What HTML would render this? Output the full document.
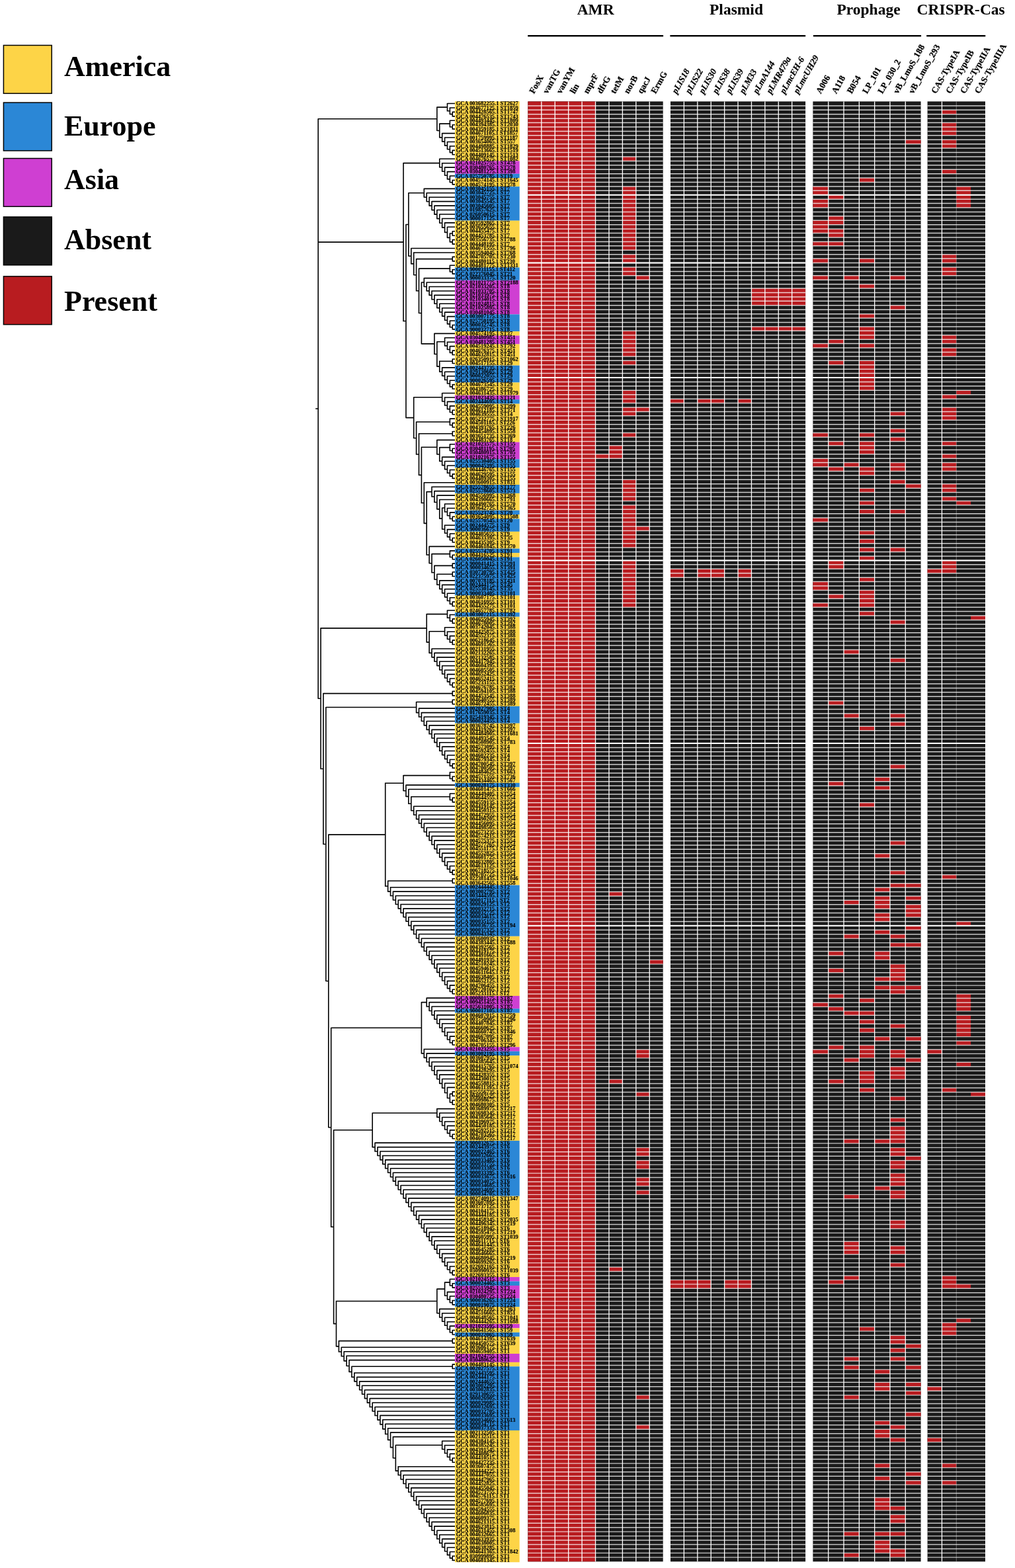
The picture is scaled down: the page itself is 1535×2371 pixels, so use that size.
<!DOCTYPE html>
<html lang="en"><head><meta charset="utf-8"><title>Phylogeny with AMR, plasmid, prophage and CRISPR-Cas heatmap</title>
<style>html,body{margin:0;padding:0;background:#fff}body{width:1535px;height:2371px;overflow:hidden}svg{display:block}text{font-family:"Liberation Serif","Times New Roman",serif;font-weight:bold;fill:#000}.it{font-style:italic}</style></head><body>
<svg width="1535" height="2371" viewBox="0 0 1535 2371">
<rect width="1535" height="2371" fill="#fff"/>
<g id="legend" font-size="44">
<rect x="5.4" y="68.5" width="72.8" height="72.8" fill="#FDD447" stroke="#000" stroke-width="1.5"/>
<text x="97" y="114.6">America</text>
<rect x="5.4" y="155.1" width="72.8" height="72.8" fill="#2B87D6" stroke="#000" stroke-width="1.5"/>
<text x="97" y="205.4">Europe</text>
<rect x="5.4" y="239.5" width="72.8" height="72.8" fill="#CF3FD2" stroke="#000" stroke-width="1.5"/>
<text x="97" y="285.6">Asia</text>
<rect x="5.4" y="328" width="72.8" height="72.8" fill="#1a1a1a" stroke="#000" stroke-width="1.5"/>
<text x="97" y="376.8">Absent</text>
<rect x="5.4" y="417.9" width="72.8" height="72.8" fill="#B81C20" stroke="#000" stroke-width="1.5"/>
<text x="97" y="469.8">Present</text>
</g>
<g id="titles" font-size="23.5" text-anchor="middle">
<text x="900.7" y="22">AMR</text>
<text x="1113.5" y="22">Plasmid</text>
<text x="1313.5" y="22">Prophage</text>
<text x="1453.2" y="22">CRISPR-Cas</text>
</g>
<rect x="798.2" y="53.0" width="204.9" height="2.4" fill="#000"/>
<rect x="1013.4" y="53.0" width="204.8" height="2.4" fill="#000"/>
<rect x="1229.9" y="53.0" width="163.2" height="2.4" fill="#000"/>
<rect x="1401.2" y="53.0" width="89.1" height="2.4" fill="#000"/>
<g id="collabels" font-size="13.3" stroke="#000" stroke-width="0.25">
<text transform="translate(807.62 142.6) rotate(-60.5)">FosX</text>
<text transform="translate(828.04 142.6) rotate(-60.5)">vanTG</text>
<text transform="translate(848.48 142.6) rotate(-60.5)">vanYM</text>
<text transform="translate(868.9 142.6) rotate(-60.5)">lin</text>
<text transform="translate(889.34 142.6) rotate(-60.5)">mprF</text>
<text transform="translate(909.76 142.6) rotate(-60.5)">dfrG</text>
<text transform="translate(930.2 142.6) rotate(-60.5)">tetM</text>
<text transform="translate(950.62 142.6) rotate(-60.5)">norB</text>
<text transform="translate(971.06 142.6) rotate(-60.5)">qacJ</text>
<text transform="translate(991.49 142.6) rotate(-60.5)">ErmG</text>
<text class="it" transform="translate(1023.2 142.6) rotate(-60.5)">pLIS18</text>
<text class="it" transform="translate(1043.62 142.6) rotate(-60.5)">pLIS22</text>
<text class="it" transform="translate(1064.03 142.6) rotate(-60.5)">pLIS30</text>
<text class="it" transform="translate(1084.43 142.6) rotate(-60.5)">pLIS38</text>
<text class="it" transform="translate(1104.85 142.6) rotate(-60.5)">pLIS39</text>
<text class="it" transform="translate(1125.25 142.6) rotate(-60.5)">pLM33</text>
<text class="it" transform="translate(1145.66 142.6) rotate(-60.5)">pLmA144</text>
<text class="it" transform="translate(1166.07 142.6) rotate(-60.5)">pLMR479a</text>
<text class="it" transform="translate(1186.48 142.6) rotate(-60.5)">pLmcEH-6</text>
<text class="it" transform="translate(1206.89 142.6) rotate(-60.5)">pLmcUH29</text>
<text transform="translate(1241.36 142.6) rotate(-60.5)">A006</text>
<text transform="translate(1264.67 142.6) rotate(-60.5)">A118</text>
<text transform="translate(1287.99 142.6) rotate(-60.5)">B054</text>
<text transform="translate(1311.3 142.6) rotate(-60.5)">LP_101</text>
<text transform="translate(1334.61 142.6) rotate(-60.5)">LP_030_2</text>
<text transform="translate(1357.93 142.6) rotate(-60.5)">vB_LmoS_188</text>
<text transform="translate(1381.24 142.6) rotate(-60.5)">vB_LmoS_293</text>
<text transform="translate(1415.52 142.6) rotate(-60.5)">CAS-TypeIA</text>
<text transform="translate(1437.38 142.6) rotate(-60.5)">CAS-TypeIB</text>
<text transform="translate(1459.22 142.6) rotate(-60.5)">CAS-TypeIIA</text>
<text transform="translate(1481.08 142.6) rotate(-60.5)">CAS-TypeIIIA</text>
</g>
<path id="tree" d="M684.29 168.8V176.44M684.29 169.4H688.6M684.29 175.84H688.6M680.39 162.36V173.22M680.39 162.96H688.6M680.39 172.62H684.29M676.48 155.92V168.39M676.48 156.52H688.6M676.48 167.79H680.39M684.29 188.13V195.77M684.29 188.73H688.6M684.29 195.17H688.6M680.39 181.68V192.55M680.39 182.28H688.6M680.39 191.95H684.29M684.29 226.77V234.41M684.29 227.37H688.6M684.29 233.81H688.6M680.39 220.33V231.19M680.39 220.93H688.6M680.39 230.59H684.29M676.48 213.89V226.36M676.48 214.49H688.6M676.48 225.76H680.39M672.58 207.45V220.73M672.58 208.05H688.6M672.58 220.13H676.48M668.67 201.01V214.69M668.67 201.61H688.6M668.67 214.09H672.58M664.76 186.52V208.45M664.76 187.12H680.39M664.76 207.85H668.67M660.86 161.56V198.08M660.86 162.16H676.48M660.86 197.48H664.76M684.29 271.86V279.5M684.29 272.46H688.6M684.29 278.9H688.6M680.39 265.42V276.28M680.39 266.02H688.6M680.39 275.68H684.29M676.48 258.98V271.45M676.48 259.58H688.6M676.48 270.85H680.39M672.58 252.54V265.81M672.58 253.14H688.6M672.58 265.21H676.48M668.67 246.1V259.78M668.67 246.7H688.6M668.67 259.18H672.58M664.76 239.65V253.54M664.76 240.25H688.6M664.76 252.94H668.67M684.29 349.15V356.79M684.29 349.75H688.6M684.29 356.19H688.6M684.29 362.04V369.68M684.29 362.64H688.6M684.29 369.08H688.6M680.39 352.37V366.46M680.39 352.97H684.29M680.39 365.86H684.29M676.48 342.71V360.02M676.48 343.31H688.6M676.48 359.42H680.39M672.58 336.27V351.96M672.58 336.87H688.6M672.58 351.36H676.48M668.67 329.83V344.72M668.67 330.43H688.6M668.67 344.12H672.58M664.76 323.39V337.87M664.76 323.99H688.6M664.76 337.27H668.67M660.86 316.95V331.23M660.86 317.55H688.6M660.86 330.63H664.76M656.95 310.51V324.69M656.95 311.11H688.6M656.95 324.09H660.86M653.05 304.07V318.2M653.05 304.67H688.6M653.05 317.6H656.95M649.14 297.62V311.73M649.14 298.22H688.6M649.14 311.13H653.05M645.23 291.18V305.28M645.23 291.78H688.6M645.23 304.68H649.14M641.33 284.74V298.83M641.33 285.34H688.6M641.33 298.23H645.23M684.29 387.8V395.44M684.29 388.4H688.6M684.29 394.84H688.6M684.29 407.12V414.76M684.29 407.72H688.6M684.29 414.16H688.6M680.39 400.68V411.54M680.39 401.28H688.6M680.39 410.94H684.29M684.29 490.86V498.5M684.29 491.46H688.6M684.29 497.9H688.6M680.39 484.42V495.28M680.39 485.02H688.6M680.39 494.68H684.29M676.48 477.98V490.45M676.48 478.58H688.6M676.48 489.85H680.39M672.58 471.53V484.81M672.58 472.13H688.6M672.58 484.21H676.48M668.67 465.09V478.77M668.67 465.69H688.6M668.67 478.17H672.58M664.76 458.65V472.53M664.76 459.25H688.6M664.76 471.93H668.67M660.86 452.21V466.19M660.86 452.81H688.6M660.86 465.59H664.76M656.95 445.77V459.8M656.95 446.37H688.6M656.95 459.2H660.86M653.05 439.33V453.39M653.05 439.93H688.6M653.05 452.79H656.95M649.14 432.89V446.96M649.14 433.49H688.6M649.14 446.36H653.05M645.23 426.45V440.52M645.23 427.05H688.6M645.23 439.92H649.14M641.33 420.01V434.09M641.33 420.61H688.6M641.33 433.49H645.23M684.29 529.5V537.15M684.29 530.1H688.6M684.29 536.55H688.6M680.39 523.06V533.93M680.39 523.66H688.6M680.39 533.33H684.29M676.48 516.62V529.09M676.48 517.22H688.6M676.48 528.49H680.39M672.58 510.18V523.46M672.58 510.78H688.6M672.58 522.86H676.48M684.29 542.39V550.03M684.29 542.99H688.6M684.29 549.43H688.6M684.29 581.03V588.67M684.29 581.63H688.6M684.29 588.07H688.6M680.39 574.59V585.45M680.39 575.19H688.6M680.39 584.85H684.29M676.48 568.15V580.62M676.48 568.75H688.6M676.48 580.02H680.39M672.58 561.71V574.99M672.58 562.31H688.6M672.58 574.39H676.48M668.67 555.27V568.95M668.67 555.87H688.6M668.67 568.35H672.58M664.76 545.61V562.71M664.76 546.21H684.29M664.76 562.11H668.67M660.86 516.22V554.76M660.86 516.82H672.58M660.86 554.16H664.76M656.95 503.74V536.09M656.95 504.34H688.6M656.95 535.49H660.86M637.42 426.45V520.51M637.42 427.05H641.33M637.42 519.91H656.95M633.52 405.51V474.08M633.52 406.11H680.39M633.52 473.48H637.42M629.61 391.02V440.4M629.61 391.62H684.29M629.61 439.8H633.52M625.7 381.36V416.31M625.7 381.96H688.6M625.7 415.71H629.61M621.8 374.92V399.43M621.8 375.52H688.6M621.8 398.83H625.7M617.89 291.19V387.78M617.89 291.79H641.33M617.89 387.18H621.8M684.29 619.68V627.32M684.29 620.28H688.6M684.29 626.72H688.6M680.39 613.24V624.1M680.39 613.84H688.6M680.39 623.5H684.29M676.48 606.8V619.27M676.48 607.4H688.6M676.48 618.67H680.39M672.58 600.36V613.63M672.58 600.96H688.6M672.58 613.03H676.48M668.67 593.92V607.6M668.67 594.52H688.6M668.67 607H672.58M684.29 639V646.64M684.29 639.6H688.6M684.29 646.04H688.6M680.39 632.56V643.42M680.39 633.16H688.6M680.39 642.82H684.29M684.29 651.89V659.53M684.29 652.49H688.6M684.29 658.93H688.6M684.29 677.65V685.29M684.29 678.25H688.6M684.29 684.69H688.6M680.39 671.21V682.07M680.39 671.81H688.6M680.39 681.47H684.29M684.29 716.3V723.94M684.29 716.9H688.6M684.29 723.34H688.6M680.39 709.86V720.72M680.39 710.46H688.6M680.39 720.12H684.29M676.48 703.41V715.89M676.48 704.01H688.6M676.48 715.29H680.39M672.58 696.97V710.25M672.58 697.57H688.6M672.58 709.65H676.48M668.67 690.53V704.21M668.67 691.13H688.6M668.67 703.61H672.58M664.76 676.04V697.97M664.76 676.64H680.39M664.76 697.37H668.67M660.86 664.77V687.61M660.86 665.37H688.6M660.86 687.01H664.76M684.29 780.71V788.35M684.29 781.31H688.6M684.29 787.75H688.6M680.39 774.27V785.13M680.39 774.87H688.6M680.39 784.53H684.29M676.48 767.83V780.3M676.48 768.43H688.6M676.48 779.7H680.39M672.58 761.38V774.66M672.58 761.98H688.6M672.58 774.06H676.48M684.29 812.91V820.55M684.29 813.51H688.6M684.29 819.95H688.6M680.39 806.47V817.33M680.39 807.07H688.6M680.39 816.73H684.29M676.48 800.03V812.5M676.48 800.63H688.6M676.48 811.9H680.39M672.58 793.59V806.87M672.58 794.19H688.6M672.58 806.27H676.48M668.67 767.42V800.83M668.67 768.02H672.58M668.67 800.23H672.58M664.76 754.94V784.73M664.76 755.54H688.6M664.76 784.13H668.67M660.86 748.5V770.43M660.86 749.1H688.6M660.86 769.83H664.76M656.95 742.06V760.07M656.95 742.66H688.6M656.95 759.47H660.86M653.05 735.62V751.67M653.05 736.22H688.6M653.05 751.07H656.95M684.29 838.68V846.32M684.29 839.28H688.6M684.29 845.72H688.6M680.39 832.24V843.1M680.39 832.84H688.6M680.39 842.5H684.29M684.29 851.56V859.2M684.29 852.16H688.6M684.29 858.6H688.6M684.29 864.44V872.08M684.29 865.04H688.6M684.29 871.48H688.6M684.29 909.53V917.17M684.29 910.13H688.6M684.29 916.57H688.6M680.39 903.09V913.95M680.39 903.69H688.6M680.39 913.35H684.29M676.48 896.65V909.12M676.48 897.25H688.6M676.48 908.52H680.39M672.58 890.21V903.48M672.58 890.81H688.6M672.58 902.88H676.48M668.67 883.77V897.45M668.67 884.37H688.6M668.67 896.85H672.58M664.76 877.32V891.21M664.76 877.92H688.6M664.76 890.61H668.67M660.86 867.66V884.87M660.86 868.26H684.29M660.86 884.27H664.76M656.95 854.78V876.86M656.95 855.38H684.29M656.95 876.26H660.86M653.05 837.07V866.42M653.05 837.67H680.39M653.05 865.82H656.95M649.14 825.8V852.35M649.14 826.4H688.6M649.14 851.75H653.05M645.23 743.04V839.67M645.23 743.64H653.05M645.23 839.07H649.14M641.33 729.18V791.96M641.33 729.78H688.6M641.33 791.36H645.23M637.42 675.59V761.17M637.42 676.19H660.86M637.42 760.57H641.33M633.52 655.11V718.98M633.52 655.71H684.29M633.52 718.38H637.42M629.61 637.39V687.64M629.61 637.99H680.39M629.61 687.04H633.52M625.7 600.16V663.12M625.7 600.76H668.67M625.7 662.52H629.61M613.99 338.88V632.24M613.99 339.48H617.89M613.99 631.64H625.7M610.08 246V486.16M610.08 246.6H664.76M610.08 485.56H613.99M684.29 935.29V942.94M684.29 935.89H688.6M684.29 942.34H688.6M680.39 928.85V939.72M680.39 929.45H688.6M680.39 939.12H684.29M676.48 922.41V934.88M676.48 923.01H688.6M676.48 934.28H680.39M684.29 967.5V975.14M684.29 968.1H688.6M684.29 974.54H688.6M680.39 961.06V971.92M680.39 961.66H688.6M680.39 971.32H684.29M676.48 954.62V967.09M676.48 955.22H688.6M676.48 966.49H680.39M672.58 948.18V961.45M672.58 948.78H688.6M672.58 960.85H676.48M684.29 1031.91V1039.55M684.29 1032.51H688.6M684.29 1038.95H688.6M680.39 1025.47V1036.33M680.39 1026.07H688.6M680.39 1035.73H684.29M676.48 1019.03V1031.5M676.48 1019.63H688.6M676.48 1030.9H680.39M672.58 1012.59V1025.86M672.58 1013.19H688.6M672.58 1025.26H676.48M668.67 1006.15V1019.83M668.67 1006.75H688.6M668.67 1019.23H672.58M664.76 999.71V1013.59M664.76 1000.31H688.6M664.76 1012.99H668.67M660.86 993.26V1007.25M660.86 993.86H688.6M660.86 1006.65H664.76M656.95 986.82V1000.86M656.95 987.42H688.6M656.95 1000.26H660.86M653.05 980.38V994.44M653.05 980.98H688.6M653.05 993.84H656.95M649.14 954.22V988.01M649.14 954.82H672.58M649.14 987.41H653.05M645.23 928.05V971.71M645.23 928.65H676.48M645.23 971.11H649.14M684.29 1044.79V1052.43M684.29 1045.39H688.6M684.29 1051.83H688.6M684.29 1057.68V1065.32M684.29 1058.28H688.6M684.29 1064.72H688.6M684.29 1154.29V1161.93M684.29 1154.89H688.6M684.29 1161.33H688.6M680.39 1147.85V1158.71M680.39 1148.45H688.6M680.39 1158.11H684.29M676.48 1141.41V1153.88M676.48 1142.01H688.6M676.48 1153.28H680.39M672.58 1134.97V1148.25M672.58 1135.57H688.6M672.58 1147.65H676.48M668.67 1128.53V1142.21M668.67 1129.13H688.6M668.67 1141.61H672.58M664.76 1122.09V1135.97M664.76 1122.69H688.6M664.76 1135.37H668.67M660.86 1115.65V1129.63M660.86 1116.25H688.6M660.86 1129.03H664.76M656.95 1109.2V1123.24M656.95 1109.8H688.6M656.95 1122.64H660.86M653.05 1102.76V1116.82M653.05 1103.36H688.6M653.05 1116.22H656.95M649.14 1096.32V1110.39M649.14 1096.92H688.6M649.14 1109.79H653.05M645.23 1089.88V1103.96M645.23 1090.48H688.6M645.23 1103.36H649.14M641.33 1083.44V1097.52M641.33 1084.04H688.6M641.33 1096.92H645.23M637.42 1077V1091.08M637.42 1077.6H688.6M637.42 1090.48H641.33M633.52 1070.56V1084.64M633.52 1071.16H688.6M633.52 1084.04H637.42M629.61 1060.9V1078.2M629.61 1061.5H684.29M629.61 1077.6H633.52M684.29 1173.62V1181.26M684.29 1174.22H688.6M684.29 1180.66H688.6M680.39 1167.17V1178.04M680.39 1167.77H688.6M680.39 1177.44H684.29M684.29 1205.82V1213.46M684.29 1206.42H688.6M684.29 1212.86H688.6M680.39 1199.38V1210.24M680.39 1199.98H688.6M680.39 1209.64H684.29M684.29 1315.32V1322.96M684.29 1315.92H688.6M684.29 1322.36H688.6M680.39 1308.88V1319.74M680.39 1309.48H688.6M680.39 1319.14H684.29M676.48 1302.44V1314.91M676.48 1303.04H688.6M676.48 1314.31H680.39M672.58 1296V1309.27M672.58 1296.6H688.6M672.58 1308.67H676.48M668.67 1289.56V1303.24M668.67 1290.16H688.6M668.67 1302.64H672.58M664.76 1283.11V1297M664.76 1283.71H688.6M664.76 1296.4H668.67M660.86 1276.67V1290.65M660.86 1277.27H688.6M660.86 1290.05H664.76M656.95 1270.23V1284.26M656.95 1270.83H688.6M656.95 1283.66H660.86M653.05 1263.79V1277.85M653.05 1264.39H688.6M653.05 1277.25H656.95M649.14 1257.35V1271.42M649.14 1257.95H688.6M649.14 1270.82H653.05M645.23 1250.91V1264.98M645.23 1251.51H688.6M645.23 1264.38H649.14M641.33 1244.47V1258.55M641.33 1245.07H688.6M641.33 1257.95H645.23M637.42 1238.03V1252.11M637.42 1238.63H688.6M637.42 1251.51H641.33M633.52 1231.59V1245.67M633.52 1232.19H688.6M633.52 1245.07H637.42M629.61 1225.14V1239.23M629.61 1225.74H688.6M629.61 1238.63H633.52M625.7 1218.7V1232.79M625.7 1219.3H688.6M625.7 1232.19H629.61M621.8 1204.21V1226.34M621.8 1204.81H680.39M621.8 1225.74H625.7M617.89 1192.94V1215.88M617.89 1193.54H688.6M617.89 1215.28H621.8M613.99 1186.5V1205.01M613.99 1187.1H688.6M613.99 1204.41H617.89M610.08 1172.01V1196.35M610.08 1172.61H680.39M610.08 1195.75H613.99M684.29 1328.2V1335.84M684.29 1328.8H688.6M684.29 1335.24H688.6M684.29 1495.67V1503.31M684.29 1496.27H688.6M684.29 1502.71H688.6M680.39 1489.23V1500.09M680.39 1489.83H688.6M680.39 1499.49H684.29M676.48 1482.79V1495.26M676.48 1483.39H688.6M676.48 1494.66H680.39M672.58 1476.35V1489.62M672.58 1476.95H688.6M672.58 1489.02H676.48M668.67 1469.91V1483.59M668.67 1470.51H688.6M668.67 1482.99H672.58M664.76 1463.47V1477.35M664.76 1464.07H688.6M664.76 1476.75H668.67M660.86 1457.02V1471.01M660.86 1457.62H688.6M660.86 1470.41H664.76M656.95 1450.58V1464.62M656.95 1451.18H688.6M656.95 1464.02H660.86M653.05 1444.14V1458.2M653.05 1444.74H688.6M653.05 1457.6H656.95M649.14 1437.7V1451.77M649.14 1438.3H688.6M649.14 1451.17H653.05M645.23 1431.26V1445.34M645.23 1431.86H688.6M645.23 1444.74H649.14M641.33 1424.82V1438.9M641.33 1425.42H688.6M641.33 1438.3H645.23M637.42 1418.38V1432.46M637.42 1418.98H688.6M637.42 1431.86H641.33M633.52 1411.94V1426.02M633.52 1412.54H688.6M633.52 1425.42H637.42M629.61 1405.5V1419.58M629.61 1406.1H688.6M629.61 1418.98H633.52M625.7 1399.05V1413.14M625.7 1399.65H688.6M625.7 1412.54H629.61M621.8 1392.61V1406.7M621.8 1393.21H688.6M621.8 1406.1H625.7M617.89 1386.17V1400.25M617.89 1386.77H688.6M617.89 1399.65H621.8M613.99 1379.73V1393.81M613.99 1380.33H688.6M613.99 1393.21H617.89M610.08 1373.29V1387.37M610.08 1373.89H688.6M610.08 1386.77H613.99M606.17 1366.85V1380.93M606.17 1367.45H688.6M606.17 1380.33H610.08M602.27 1360.41V1374.49M602.27 1361.01H688.6M602.27 1373.89H606.17M598.36 1353.97V1368.05M598.36 1354.57H688.6M598.36 1367.45H602.27M594.46 1347.53V1361.61M594.46 1348.13H688.6M594.46 1361.01H598.36M590.55 1341.08V1355.17M590.55 1341.68H688.6M590.55 1354.57H594.46M586.64 1331.42V1348.73M586.64 1332.02H684.29M586.64 1348.13H590.55M582.74 1183.58V1340.67M582.74 1184.18H610.08M582.74 1340.07H586.64M684.29 1572.96V1580.61M684.29 1573.56H688.6M684.29 1580.01H688.6M680.39 1566.52V1577.38M680.39 1567.12H688.6M680.39 1576.78H684.29M676.48 1560.08V1572.55M676.48 1560.68H688.6M676.48 1571.95H680.39M672.58 1553.64V1566.92M672.58 1554.24H688.6M672.58 1566.32H676.48M668.67 1547.2V1560.88M668.67 1547.8H688.6M668.67 1560.28H672.58M664.76 1540.76V1554.64M664.76 1541.36H688.6M664.76 1554.04H668.67M660.86 1534.32V1548.3M660.86 1534.92H688.6M660.86 1547.7H664.76M656.95 1527.88V1541.91M656.95 1528.48H688.6M656.95 1541.31H660.86M653.05 1521.44V1535.49M653.05 1522.04H688.6M653.05 1534.89H656.95M649.14 1514.99V1529.06M649.14 1515.59H688.6M649.14 1528.46H653.05M645.23 1508.55V1522.63M645.23 1509.15H688.6M645.23 1522.03H649.14M684.29 1650.26V1657.9M684.29 1650.86H688.6M684.29 1657.3H688.6M684.29 1663.14V1670.78M684.29 1663.74H688.6M684.29 1670.18H688.6M680.39 1653.48V1667.56M680.39 1654.08H684.29M680.39 1666.96H684.29M676.48 1643.82V1661.12M676.48 1644.42H688.6M676.48 1660.52H680.39M672.58 1637.38V1653.07M672.58 1637.98H688.6M672.58 1652.47H676.48M668.67 1630.93V1645.82M668.67 1631.53H688.6M668.67 1645.22H672.58M664.76 1624.49V1638.98M664.76 1625.09H688.6M664.76 1638.38H668.67M660.86 1618.05V1632.34M660.86 1618.65H688.6M660.86 1631.74H664.76M656.95 1611.61V1625.79M656.95 1612.21H688.6M656.95 1625.19H660.86M653.05 1605.17V1619.3M653.05 1605.77H688.6M653.05 1618.7H656.95M649.14 1598.73V1612.84M649.14 1599.33H688.6M649.14 1612.24H653.05M645.23 1592.29V1606.38M645.23 1592.89H688.6M645.23 1605.78H649.14M641.33 1585.85V1599.94M641.33 1586.45H688.6M641.33 1599.34H645.23M637.42 1514.99V1593.49M637.42 1515.59H645.23M637.42 1592.89H641.33M684.29 1714.67V1722.31M684.29 1715.27H688.6M684.29 1721.71H688.6M680.39 1708.23V1719.09M680.39 1708.83H688.6M680.39 1718.49H684.29M676.48 1701.79V1714.26M676.48 1702.39H688.6M676.48 1713.66H680.39M672.58 1695.35V1708.62M672.58 1695.95H688.6M672.58 1708.02H676.48M668.67 1688.9V1702.58M668.67 1689.5H688.6M668.67 1701.98H672.58M664.76 1682.46V1696.34M664.76 1683.06H688.6M664.76 1695.74H668.67M660.86 1676.02V1690M660.86 1676.62H688.6M660.86 1689.4H664.76M684.29 1920.78V1928.43M684.29 1921.38H688.6M684.29 1927.83H688.6M680.39 1914.34V1925.2M680.39 1914.94H688.6M680.39 1924.6H684.29M676.48 1907.9V1920.37M676.48 1908.5H688.6M676.48 1919.77H680.39M672.58 1901.46V1914.74M672.58 1902.06H688.6M672.58 1914.14H676.48M668.67 1895.02V1908.7M668.67 1895.62H688.6M668.67 1908.1H672.58M664.76 1888.58V1902.46M664.76 1889.18H688.6M664.76 1901.86H668.67M660.86 1882.14V1896.12M660.86 1882.74H688.6M660.86 1895.52H664.76M656.95 1875.7V1889.73M656.95 1876.3H688.6M656.95 1889.13H660.86M653.05 1869.26V1883.31M653.05 1869.86H688.6M653.05 1882.71H656.95M649.14 1862.81V1876.88M649.14 1863.41H688.6M649.14 1876.28H653.05M645.23 1856.37V1870.45M645.23 1856.97H688.6M645.23 1869.85H649.14M641.33 1849.93V1864.01M641.33 1850.53H688.6M641.33 1863.41H645.23M637.42 1843.49V1857.57M637.42 1844.09H688.6M637.42 1856.97H641.33M633.52 1837.05V1851.13M633.52 1837.65H688.6M633.52 1850.53H637.42M629.61 1830.61V1844.69M629.61 1831.21H688.6M629.61 1844.09H633.52M625.7 1824.17V1838.25M625.7 1824.77H688.6M625.7 1837.65H629.61M621.8 1817.73V1831.81M621.8 1818.33H688.6M621.8 1831.21H625.7M617.89 1811.29V1825.37M617.89 1811.89H688.6M617.89 1824.77H621.8M613.99 1804.84V1818.93M613.99 1805.44H688.6M613.99 1818.33H617.89M610.08 1798.4V1812.49M610.08 1799H688.6M610.08 1811.89H613.99M606.17 1791.96V1806.04M606.17 1792.56H688.6M606.17 1805.44H610.08M602.27 1785.52V1799.6M602.27 1786.12H688.6M602.27 1799H606.17M598.36 1779.08V1793.16M598.36 1779.68H688.6M598.36 1792.56H602.27M594.46 1772.64V1786.72M594.46 1773.24H688.6M594.46 1786.12H598.36M590.55 1766.2V1780.28M590.55 1766.8H688.6M590.55 1779.68H594.46M586.64 1759.76V1773.84M586.64 1760.36H688.6M586.64 1773.24H590.55M582.74 1753.32V1767.4M582.74 1753.92H688.6M582.74 1766.8H586.64M578.83 1746.87V1760.96M578.83 1747.47H688.6M578.83 1760.36H582.74M574.93 1740.43V1754.52M574.93 1741.03H688.6M574.93 1753.92H578.83M571.02 1733.99V1748.07M571.02 1734.59H688.6M571.02 1747.47H574.93M567.11 1727.55V1741.63M567.11 1728.15H688.6M567.11 1741.03H571.02M563.21 1682.41V1735.19M563.21 1683.01H660.86M563.21 1734.59H567.11M684.29 1940.11V1947.75M684.29 1940.71H688.6M684.29 1947.15H688.6M680.39 1933.67V1944.53M680.39 1934.27H688.6M680.39 1943.93H684.29M684.29 1965.87V1973.51M684.29 1966.47H688.6M684.29 1972.91H688.6M680.39 1959.43V1970.29M680.39 1960.03H688.6M680.39 1969.69H684.29M676.48 1952.99V1965.46M676.48 1953.59H688.6M676.48 1964.86H680.39M672.58 1938.5V1959.83M672.58 1939.1H680.39M672.58 1959.23H676.48M684.29 2010.96V2018.6M684.29 2011.56H688.6M684.29 2018H688.6M680.39 2004.52V2015.38M680.39 2005.12H688.6M680.39 2014.78H684.29M676.48 1998.08V2010.55M676.48 1998.68H688.6M676.48 2009.95H680.39M672.58 1991.64V2004.91M672.58 1992.24H688.6M672.58 2004.31H676.48M668.67 1985.2V1998.87M668.67 1985.8H688.6M668.67 1998.27H672.58M664.76 1978.75V1992.64M664.76 1979.35H688.6M664.76 1992.04H668.67M660.86 1948.56V1986.29M660.86 1949.16H672.58M660.86 1985.69H664.76M684.29 2023.84V2031.48M684.29 2024.44H688.6M684.29 2030.88H688.6M684.29 2062.49V2070.13M684.29 2063.09H688.6M684.29 2069.53H688.6M684.29 2204.19V2211.83M684.29 2204.79H688.6M684.29 2211.23H688.6M680.39 2197.75V2208.61M680.39 2198.35H688.6M680.39 2208.01H684.29M676.48 2191.31V2203.78M676.48 2191.91H688.6M676.48 2203.18H680.39M672.58 2184.87V2198.15M672.58 2185.47H688.6M672.58 2197.55H676.48M668.67 2178.43V2192.11M668.67 2179.03H688.6M668.67 2191.51H672.58M684.29 2352.34V2359.98M684.29 2352.94H688.6M684.29 2359.38H688.6M680.39 2345.9V2356.76M680.39 2346.5H688.6M680.39 2356.16H684.29M676.48 2339.46V2351.93M676.48 2340.06H688.6M676.48 2351.33H680.39M672.58 2333.02V2346.29M672.58 2333.62H688.6M672.58 2345.69H676.48M668.67 2326.57V2340.25M668.67 2327.17H688.6M668.67 2339.65H672.58M664.76 2320.13V2334.01M664.76 2320.73H688.6M664.76 2333.41H668.67M660.86 2313.69V2327.67M660.86 2314.29H688.6M660.86 2327.07H664.76M656.95 2307.25V2321.28M656.95 2307.85H688.6M656.95 2320.68H660.86M653.05 2300.81V2314.87M653.05 2301.41H688.6M653.05 2314.27H656.95M649.14 2294.37V2308.44M649.14 2294.97H688.6M649.14 2307.84H653.05M645.23 2287.93V2302M645.23 2288.53H688.6M645.23 2301.4H649.14M641.33 2281.49V2295.57M641.33 2282.09H688.6M641.33 2294.97H645.23M637.42 2275.05V2289.13M637.42 2275.65H688.6M637.42 2288.53H641.33M633.52 2268.6V2282.69M633.52 2269.2H688.6M633.52 2282.09H637.42M629.61 2262.16V2276.24M629.61 2262.76H688.6M629.61 2275.64H633.52M625.7 2255.72V2269.8M625.7 2256.32H688.6M625.7 2269.2H629.61M621.8 2249.28V2263.36M621.8 2249.88H688.6M621.8 2262.76H625.7M617.89 2242.84V2256.92M617.89 2243.44H688.6M617.89 2256.32H621.8M613.99 2236.4V2250.48M613.99 2237H688.6M613.99 2249.88H617.89M610.08 2229.96V2244.04M610.08 2230.56H688.6M610.08 2243.44H613.99M606.17 2223.52V2237.6M606.17 2224.12H688.6M606.17 2237H610.08M602.27 2217.08V2231.16M602.27 2217.68H688.6M602.27 2230.56H606.17M598.36 2184.67V2224.72M598.36 2185.27H668.67M598.36 2224.12H602.27M594.46 2171.99V2205.29M594.46 2172.59H688.6M594.46 2204.69H598.36M590.55 2165.55V2189.24M590.55 2166.15H688.6M590.55 2188.64H594.46M586.64 2159.11V2177.99M586.64 2159.71H688.6M586.64 2177.39H590.55M582.74 2152.66V2169.15M582.74 2153.26H688.6M582.74 2168.55H586.64M578.83 2146.22V2161.51M578.83 2146.82H688.6M578.83 2160.91H582.74M574.93 2139.78V2154.46M574.93 2140.38H688.6M574.93 2153.86H578.83M571.02 2133.34V2147.72M571.02 2133.94H688.6M571.02 2147.12H574.93M567.11 2126.9V2141.13M567.11 2127.5H688.6M567.11 2140.53H571.02M563.21 2120.46V2134.62M563.21 2121.06H688.6M563.21 2134.02H567.11M559.3 2114.02V2128.14M559.3 2114.62H688.6M559.3 2127.54H563.21M555.4 2107.58V2121.68M555.4 2108.18H688.6M555.4 2121.08H559.3M551.49 2101.14V2115.23M551.49 2101.74H688.6M551.49 2114.63H555.4M547.58 2094.69V2108.78M547.58 2095.29H688.6M547.58 2108.18H551.49M543.68 2088.25V2102.34M543.68 2088.85H688.6M543.68 2101.74H547.58M539.77 2081.81V2095.9M539.77 2082.41H688.6M539.77 2095.3H543.68M535.87 2075.37V2089.45M535.87 2075.97H688.6M535.87 2088.85H539.77M531.96 2065.71V2083.01M531.96 2066.31H684.29M531.96 2082.41H535.87M528.05 2056.05V2074.96M528.05 2056.65H688.6M528.05 2074.36H531.96M524.15 2049.61V2066.1M524.15 2050.21H688.6M524.15 2065.5H528.05M520.24 2043.17V2058.46M520.24 2043.77H688.6M520.24 2057.86H524.15M516.34 2036.72V2051.41M516.34 2037.32H688.6M516.34 2050.81H520.24M512.43 2027.06V2044.67M512.43 2027.66H684.29M512.43 2044.07H516.34M508.52 1966.83V2036.46M508.52 1967.43H660.86M508.52 2035.86H512.43M504.62 1708.2V2002.25M504.62 1708.8H563.21M504.62 2001.65H508.52M500.71 1553.64V1855.82M500.71 1554.24H637.42M500.71 1855.22H504.62M496.81 1261.53V1705.33M496.81 1262.13H582.74M496.81 1704.73H500.71M492.9 1068.95V1484.03M492.9 1069.55H629.61M492.9 1483.43H496.81M488.99 1048.01V1277.09M488.99 1048.61H684.29M488.99 1276.49H492.9M485.09 949.28V1163.15M485.09 949.88H645.23M485.09 1162.55H488.99M481.18 179.22V1056.82M481.18 179.82H660.86M481.18 366.08H610.08M481.18 1056.22H485.09M477.18 618.02H481.18" fill="none" stroke="#000" stroke-width="1.6"/>
<g id="labelbg">
<rect x="687.9" y="153.3" width="97.8" height="90.23" fill="#FDD447"/>
<rect x="687.9" y="243.48" width="97.8" height="19.37" fill="#CF3FD2"/>
<rect x="687.9" y="262.8" width="97.8" height="6.49" fill="#2B87D6"/>
<rect x="687.9" y="269.24" width="97.8" height="12.93" fill="#FDD447"/>
<rect x="687.9" y="282.12" width="97.8" height="51.58" fill="#2B87D6"/>
<rect x="687.9" y="333.65" width="97.8" height="70.9" fill="#FDD447"/>
<rect x="687.9" y="404.5" width="97.8" height="19.37" fill="#2B87D6"/>
<rect x="687.9" y="423.83" width="97.8" height="51.58" fill="#CF3FD2"/>
<rect x="687.9" y="475.36" width="97.8" height="25.81" fill="#2B87D6"/>
<rect x="687.9" y="501.12" width="97.8" height="6.49" fill="#FDD447"/>
<rect x="687.9" y="507.56" width="97.8" height="12.93" fill="#CF3FD2"/>
<rect x="687.9" y="520.44" width="97.8" height="32.26" fill="#FDD447"/>
<rect x="687.9" y="552.65" width="97.8" height="25.81" fill="#2B87D6"/>
<rect x="687.9" y="578.41" width="97.8" height="19.37" fill="#FDD447"/>
<rect x="687.9" y="597.74" width="97.8" height="6.49" fill="#CF3FD2"/>
<rect x="687.9" y="604.18" width="97.8" height="6.49" fill="#2B87D6"/>
<rect x="687.9" y="610.62" width="97.8" height="58.02" fill="#FDD447"/>
<rect x="687.9" y="668.59" width="97.8" height="25.81" fill="#CF3FD2"/>
<rect x="687.9" y="694.35" width="97.8" height="12.93" fill="#2B87D6"/>
<rect x="687.9" y="707.24" width="97.8" height="25.81" fill="#FDD447"/>
<rect x="687.9" y="733" width="97.8" height="12.93" fill="#2B87D6"/>
<rect x="687.9" y="745.88" width="97.8" height="25.81" fill="#FDD447"/>
<rect x="687.9" y="771.65" width="97.8" height="6.49" fill="#2B87D6"/>
<rect x="687.9" y="778.09" width="97.8" height="6.49" fill="#FDD447"/>
<rect x="687.9" y="784.53" width="97.8" height="19.37" fill="#2B87D6"/>
<rect x="687.9" y="803.85" width="97.8" height="25.81" fill="#FDD447"/>
<rect x="687.9" y="829.62" width="97.8" height="6.49" fill="#2B87D6"/>
<rect x="687.9" y="836.06" width="97.8" height="6.49" fill="#FDD447"/>
<rect x="687.9" y="842.5" width="97.8" height="58.02" fill="#2B87D6"/>
<rect x="687.9" y="900.47" width="97.8" height="25.81" fill="#FDD447"/>
<rect x="687.9" y="926.23" width="97.8" height="6.49" fill="#2B87D6"/>
<rect x="687.9" y="932.67" width="97.8" height="135.31" fill="#FDD447"/>
<rect x="687.9" y="1067.94" width="97.8" height="25.81" fill="#2B87D6"/>
<rect x="687.9" y="1093.7" width="97.8" height="90.23" fill="#FDD447"/>
<rect x="687.9" y="1183.88" width="97.8" height="6.49" fill="#2B87D6"/>
<rect x="687.9" y="1190.32" width="97.8" height="148.2" fill="#FDD447"/>
<rect x="687.9" y="1338.46" width="97.8" height="77.34" fill="#2B87D6"/>
<rect x="687.9" y="1415.76" width="97.8" height="90.23" fill="#FDD447"/>
<rect x="687.9" y="1505.93" width="97.8" height="19.37" fill="#CF3FD2"/>
<rect x="687.9" y="1525.26" width="97.8" height="6.49" fill="#2B87D6"/>
<rect x="687.9" y="1531.7" width="97.8" height="51.58" fill="#FDD447"/>
<rect x="687.9" y="1583.23" width="97.8" height="6.49" fill="#CF3FD2"/>
<rect x="687.9" y="1589.67" width="97.8" height="6.49" fill="#2B87D6"/>
<rect x="687.9" y="1596.11" width="97.8" height="128.87" fill="#FDD447"/>
<rect x="687.9" y="1724.93" width="97.8" height="83.78" fill="#2B87D6"/>
<rect x="687.9" y="1808.66" width="97.8" height="122.43" fill="#FDD447"/>
<rect x="687.9" y="1931.05" width="97.8" height="6.49" fill="#CF3FD2"/>
<rect x="687.9" y="1937.49" width="97.8" height="6.49" fill="#2B87D6"/>
<rect x="687.9" y="1943.93" width="97.8" height="19.37" fill="#CF3FD2"/>
<rect x="687.9" y="1963.25" width="97.8" height="12.93" fill="#2B87D6"/>
<rect x="687.9" y="1976.13" width="97.8" height="25.81" fill="#FDD447"/>
<rect x="687.9" y="2001.9" width="97.8" height="6.49" fill="#CF3FD2"/>
<rect x="687.9" y="2008.34" width="97.8" height="6.49" fill="#FDD447"/>
<rect x="687.9" y="2014.78" width="97.8" height="6.49" fill="#2B87D6"/>
<rect x="687.9" y="2021.22" width="97.8" height="25.81" fill="#FDD447"/>
<rect x="687.9" y="2046.99" width="97.8" height="12.93" fill="#CF3FD2"/>
<rect x="687.9" y="2059.87" width="97.8" height="6.49" fill="#FDD447"/>
<rect x="687.9" y="2066.31" width="97.8" height="96.67" fill="#2B87D6"/>
<rect x="687.9" y="2162.93" width="97.8" height="199.32" fill="#FDD447"/>
</g>
<g id="labels" font-size="8.45" stroke="#000" stroke-width="0.14" transform="scale(1 0.88)">
<text x="689.8" y="180.93">GCA 003682255.1 ST2627</text>
<text x="689.8" y="188.25">GCA 004677125.1 ST1859</text>
<text x="689.8" y="195.57">GCA 004428565.1 ST1747</text>
<text x="689.8" y="202.89">GCA 004476535.1 ST1743</text>
<text x="689.8" y="210.21">GCA 004493445.1 ST1809</text>
<text x="689.8" y="217.53">GCA 004394385.1 ST2030</text>
<text x="689.8" y="224.85">GCA 004359185.1 ST1831</text>
<text x="689.8" y="232.17">GCA 004671105.1 ST1857</text>
<text x="689.8" y="239.49">GCA 001759995.1 ST1187</text>
<text x="689.8" y="246.81">GCA 003654065.1 ST557</text>
<text x="689.8" y="254.13">GCA 004498885.1 ST1829</text>
<text x="689.8" y="261.45">GCA 004513665.1 ST1519</text>
<text x="689.8" y="268.77">GCA 004409145.1 ST1513</text>
<text x="689.8" y="276.09">GCA 004676575.1 ST1082</text>
<text x="689.8" y="283.4">GCA 021025755.1 ST478</text>
<text x="689.8" y="290.72">GCA 030480765.1 ST378</text>
<text x="689.8" y="298.04">GCA 030481275.1 ST398</text>
<text x="689.8" y="305.36">GCA 025750785.1 ST19</text>
<text x="689.8" y="312.68">GCA 004574145.1 ST1645</text>
<text x="689.8" y="320">GCA 004574195.1 ST378</text>
<text x="689.8" y="327.32">GCA 003045155.1 ST7</text>
<text x="689.8" y="334.64">GCA 003045725.1 ST7</text>
<text x="689.8" y="341.96">GCA 003045755.1 ST7</text>
<text x="689.8" y="349.28">GCA 003045545.1 ST7</text>
<text x="689.8" y="356.6">GCA 003045605.1 ST7</text>
<text x="689.8" y="363.92">GCA 019857625.1 ST7</text>
<text x="689.8" y="371.24">GCA 026050615.1 ST7</text>
<text x="689.8" y="378.56">GCA 900017125.1 ST7</text>
<text x="689.8" y="385.88">GCA 003592865.1 ST7</text>
<text x="689.8" y="393.2">GCA 003655655.1 ST7</text>
<text x="689.8" y="400.52">GCA 004455475.1 ST7</text>
<text x="689.8" y="407.84">GCA 004453785.1 ST7</text>
<text x="689.8" y="415.15">GCA 003556735.1 ST788</text>
<text x="689.8" y="422.47">GCA 004448195.1 ST7</text>
<text x="689.8" y="429.79">GCA 004671555.1 ST796</text>
<text x="689.8" y="437.11">GCA 003594045.1 ST768</text>
<text x="689.8" y="444.43">GCA 004705705.1 ST230</text>
<text x="689.8" y="451.75">GCA 004480115.1 ST230</text>
<text x="689.8" y="459.07">GCA 004481775.1 ST1331</text>
<text x="689.8" y="466.39">GCA 900031155.1 ST412</text>
<text x="689.8" y="473.71">GCA 022376045.1 ST21</text>
<text x="689.8" y="481.03">GCA 900033375.1 ST120</text>
<text x="689.8" y="488.35">GCA 021021775.1 ST2188</text>
<text x="689.8" y="495.67">GCA 021033205.1 ST8</text>
<text x="689.8" y="502.99">GCA 021033705.1 ST8</text>
<text x="689.8" y="510.31">GCA 021033975.1 ST8</text>
<text x="689.8" y="517.63">GCA 021034015.1 ST8</text>
<text x="689.8" y="524.95">GCA 021024815.1 ST8</text>
<text x="689.8" y="532.27">GCA 021025895.1 ST8</text>
<text x="689.8" y="539.59">GCA 030481045.1 ST8</text>
<text x="689.8" y="546.9">GCA 003007175.1 ST8</text>
<text x="689.8" y="554.22">GCA 025750195.1 ST8</text>
<text x="689.8" y="561.54">GCA 900032745.1 ST8</text>
<text x="689.8" y="568.86">GCA 900032715.1 ST8</text>
<text x="689.8" y="576.18">GCA 004574195.1 ST37</text>
<text x="689.8" y="583.5">GCA 030480985.1 ST451</text>
<text x="689.8" y="590.82">GCA 030481285.1 ST451</text>
<text x="689.8" y="598.14">GCA 004519245.1 ST792</text>
<text x="689.8" y="605.46">GCA 004676375.1 ST451</text>
<text x="689.8" y="612.78">GCA 004632815.1 ST451</text>
<text x="689.8" y="620.1">GCA 026350915.1 ST1062</text>
<text x="689.8" y="627.42">GCA 004517155.1 ST29</text>
<text x="689.8" y="634.74">GCA 002443735.1 ST29</text>
<text x="689.8" y="642.06">GCA 029130665.1 ST29</text>
<text x="689.8" y="649.38">GCA 900022055.1 ST29</text>
<text x="689.8" y="656.7">GCA 900026595.1 ST29</text>
<text x="689.8" y="664.02">GCA 004673545.1 ST29</text>
<text x="689.8" y="671.33">GCA 004386725.1 ST29</text>
<text x="689.8" y="678.65">GCA 004631435.1 ST1979</text>
<text x="689.8" y="685.97">GCA 021023435.1 ST121</text>
<text x="689.8" y="693.29">GCA 002444695.1 ST14</text>
<text x="689.8" y="700.61">GCA 004559095.1 ST399</text>
<text x="689.8" y="707.93">GCA 004612185.1 ST371</text>
<text x="689.8" y="715.25">GCA 004639555.1 ST14</text>
<text x="689.8" y="722.57">GCA 005232775.1 ST1917</text>
<text x="689.8" y="729.89">GCA 004501185.1 ST226</text>
<text x="689.8" y="737.21">GCA 004393765.1 ST226</text>
<text x="689.8" y="744.53">GCA 004454895.1 ST558</text>
<text x="689.8" y="751.85">GCA 003651735.1 ST369</text>
<text x="689.8" y="759.17">GCA 004483765.1 ST18</text>
<text x="689.8" y="766.49">GCA 021023575.1 ST155</text>
<text x="689.8" y="773.81">GCA 030481195.1 ST705</text>
<text x="689.8" y="781.13">GCA 030480915.1 ST705</text>
<text x="689.8" y="788.45">GCA 021021675.1 ST155</text>
<text x="689.8" y="795.77">GCA 025530405.1 ST155</text>
<text x="689.8" y="803.08">GCA 900045395.1 ST155</text>
<text x="689.8" y="810.4">GCA 004446765.1 ST155</text>
<text x="689.8" y="817.72">GCA 004629595.1 ST155</text>
<text x="689.8" y="825.04">GCA 004489305.1 ST155</text>
<text x="689.8" y="832.36">GCA 003600915.1 ST831</text>
<text x="689.8" y="839.68">GCA 025578655.1 ST177</text>
<text x="689.8" y="847">GCA 025578605.1 ST573</text>
<text x="689.8" y="854.32">GCA 004556995.1 ST368</text>
<text x="689.8" y="861.64">GCA 004390665.1 ST791</text>
<text x="689.8" y="868.96">GCA 004490765.1 ST570</text>
<text x="689.8" y="876.28">GCA 003642725.1 ST365</text>
<text x="689.8" y="883.6">GCA 025523745.1 ST20</text>
<text x="689.8" y="890.92">GCA 003654095.1 ST1508</text>
<text x="689.8" y="898.24">GCA 025570545.1 ST20</text>
<text x="689.8" y="905.56">GCA 002444575.1 ST9</text>
<text x="689.8" y="912.88">GCA 900036675.1 ST9</text>
<text x="689.8" y="920.2">GCA 004405655.1 ST9</text>
<text x="689.8" y="927.52">GCA 004633395.1 ST35</text>
<text x="689.8" y="934.83">GCA 004435305.1 ST9</text>
<text x="689.8" y="942.15">GCA 004461845.1 ST370</text>
<text x="689.8" y="949.47">GCA 025574705.1 ST91</text>
<text x="689.8" y="956.79">GCA 004416525.1 ST91</text>
<text x="689.8" y="964.11">GCA 026050045.1 ST91</text>
<text x="689.8" y="971.43">GCA 900041415.1 ST391</text>
<text x="689.8" y="978.75">GCA 900034655.1 ST391</text>
<text x="689.8" y="986.07">GCA 030730795.1 ST425</text>
<text x="689.8" y="993.39">GCA 022375975.1 ST425</text>
<text x="689.8" y="1000.71">GCA 007078185.1 ST431</text>
<text x="689.8" y="1008.03">GCA 002444175.1 ST45</text>
<text x="689.8" y="1015.35">GCA 025530145.1 ST35</text>
<text x="689.8" y="1022.67">GCA 900033405.1 ST101</text>
<text x="689.8" y="1029.99">GCA 003607175.1 ST101</text>
<text x="689.8" y="1037.31">GCA 004616955.1 ST101</text>
<text x="689.8" y="1044.63">GCA 004455275.1 ST101</text>
<text x="689.8" y="1051.95">GCA 024657785.1 ST782</text>
<text x="689.8" y="1059.27">GCA 003007215.1 ST392</text>
<text x="689.8" y="1066.58">GCA 004655945.1 ST392</text>
<text x="689.8" y="1073.9">GCA 004678005.1 ST392</text>
<text x="689.8" y="1081.22">GCA 003742045.1 ST388</text>
<text x="689.8" y="1088.54">GCA 004425875.1 ST388</text>
<text x="689.8" y="1095.86">GCA 004552375.1 ST388</text>
<text x="689.8" y="1103.18">GCA 006218645.1 ST388</text>
<text x="689.8" y="1110.5">GCA 004691565.1 ST388</text>
<text x="689.8" y="1117.82">GCA 002131955.1 ST382</text>
<text x="689.8" y="1125.14">GCA 002132265.1 ST382</text>
<text x="689.8" y="1132.46">GCA 002132585.1 ST382</text>
<text x="689.8" y="1139.78">GCA 004417945.1 ST382</text>
<text x="689.8" y="1147.1">GCA 004604395.1 ST382</text>
<text x="689.8" y="1154.42">GCA 004605505.1 ST382</text>
<text x="689.8" y="1161.74">GCA 004652425.1 ST382</text>
<text x="689.8" y="1169.06">GCA 004652415.1 ST382</text>
<text x="689.8" y="1176.38">GCA 005233155.1 ST382</text>
<text x="689.8" y="1183.7">GCA 004676785.1 ST382</text>
<text x="689.8" y="1191.02">GCA 004594105.1 ST388</text>
<text x="689.8" y="1198.33">GCA 004453545.1 ST388</text>
<text x="689.8" y="1205.65">GCA 004640555.1 ST389</text>
<text x="689.8" y="1212.97">GCA 004672455.1 ST389</text>
<text x="689.8" y="1220.29">GCA 002027905.1 ST4</text>
<text x="689.8" y="1227.61">GCA 017659035.1 ST4</text>
<text x="689.8" y="1234.93">GCA 025419345.1 ST4</text>
<text x="689.8" y="1242.25">GCA 900024455.1 ST4</text>
<text x="689.8" y="1249.57">GCA 003678745.1 ST397</text>
<text x="689.8" y="1256.89">GCA 004419265.1 ST397</text>
<text x="689.8" y="1264.21">GCA 004484905.1 ST1681</text>
<text x="689.8" y="1271.53">GCA 004493545.1 ST4</text>
<text x="689.8" y="1278.85">GCA 004508905.1 ST783</text>
<text x="689.8" y="1286.17">GCA 004573095.1 ST4</text>
<text x="689.8" y="1293.49">GCA 004592455.1 ST4</text>
<text x="689.8" y="1300.81">GCA 004602235.1 ST4</text>
<text x="689.8" y="1308.13">GCA 004679345.1 ST4</text>
<text x="689.8" y="1315.45">GCA 004700545.1 ST397</text>
<text x="689.8" y="1322.77">GCA 004700505.1 ST397</text>
<text x="689.8" y="1330.08">GCA 004484625.1 ST663</text>
<text x="689.8" y="1337.4">GCA 004571555.1 ST736</text>
<text x="689.8" y="1344.72">GCA 004434465.1 ST567</text>
<text x="689.8" y="1352.04">GCA 900028175.1 ST330</text>
<text x="689.8" y="1359.36">GCA 004601475.1 ST666</text>
<text x="689.8" y="1366.68">GCA 004449405.1 ST554</text>
<text x="689.8" y="1374">GCA 004644555.1 ST554</text>
<text x="689.8" y="1381.32">GCA 004559135.1 ST554</text>
<text x="689.8" y="1388.64">GCA 004419145.1 ST554</text>
<text x="689.8" y="1395.96">GCA 004450315.1 ST554</text>
<text x="689.8" y="1403.28">GCA 004472955.1 ST554</text>
<text x="689.8" y="1410.6">GCA 004490205.1 ST554</text>
<text x="689.8" y="1417.92">GCA 004456095.1 ST554</text>
<text x="689.8" y="1425.24">GCA 004498505.1 ST554</text>
<text x="689.8" y="1432.56">GCA 004573235.1 ST999</text>
<text x="689.8" y="1439.88">GCA 004574215.1 ST554</text>
<text x="689.8" y="1447.2">GCA 004575375.1 ST554</text>
<text x="689.8" y="1454.52">GCA 004577265.1 ST554</text>
<text x="689.8" y="1461.83">GCA 004551175.1 ST554</text>
<text x="689.8" y="1469.15">GCA 004552825.1 ST554</text>
<text x="689.8" y="1476.47">GCA 004601725.1 ST554</text>
<text x="689.8" y="1483.79">GCA 004632805.1 ST554</text>
<text x="689.8" y="1491.11">GCA 004613125.1 ST554</text>
<text x="689.8" y="1498.43">GCA 006718575.1 ST554</text>
<text x="689.8" y="1505.75">GCA 004705725.1 ST554</text>
<text x="689.8" y="1513.07">GCA 022381435.1 ST1046</text>
<text x="689.8" y="1520.39">GCA 003642565.1 ST558</text>
<text x="689.8" y="1527.71">GCA 002444445.1 ST2</text>
<text x="689.8" y="1535.03">GCA 003002795.1 ST2</text>
<text x="689.8" y="1542.35">GCA 003444595.1 ST2</text>
<text x="689.8" y="1549.67">GCA 900017115.1 ST2</text>
<text x="689.8" y="1556.99">GCA 900029125.1 ST2</text>
<text x="689.8" y="1564.31">GCA 900032715.1 ST2</text>
<text x="689.8" y="1571.63">GCA 900032725.1 ST2</text>
<text x="689.8" y="1578.95">GCA 900034615.1 ST2</text>
<text x="689.8" y="1586.27">GCA 900035155.1 ST2</text>
<text x="689.8" y="1593.58">GCA 900036735.1 ST194</text>
<text x="689.8" y="1600.9">GCA 900037325.1 ST2</text>
<text x="689.8" y="1608.22">GCA 900043345.1 ST2</text>
<text x="689.8" y="1615.54">GCA 003600935.1 ST2</text>
<text x="689.8" y="1622.86">GCA 004383445.1 ST688</text>
<text x="689.8" y="1630.18">GCA 004392565.1 ST2</text>
<text x="689.8" y="1637.5">GCA 004419175.1 ST2</text>
<text x="689.8" y="1644.82">GCA 004491665.1 ST2</text>
<text x="689.8" y="1652.14">GCA 004491935.1 ST2</text>
<text x="689.8" y="1659.46">GCA 004510245.1 ST2</text>
<text x="689.8" y="1666.78">GCA 004594615.1 ST2</text>
<text x="689.8" y="1674.1">GCA 004611645.1 ST2</text>
<text x="689.8" y="1681.42">GCA 004638405.1 ST2</text>
<text x="689.8" y="1688.74">GCA 004652125.1 ST2</text>
<text x="689.8" y="1696.06">GCA 004706455.1 ST2</text>
<text x="689.8" y="1703.38">GCA 006720165.1 ST2</text>
<text x="689.8" y="1710.7">GCA 005233115.1 ST2</text>
<text x="689.8" y="1718.02">GCA 000801575.1 ST87</text>
<text x="689.8" y="1725.33">GCA 009451455.1 ST87</text>
<text x="689.8" y="1732.65">GCA 025631005.1 ST87</text>
<text x="689.8" y="1739.97">GCA 900017105.1 ST87</text>
<text x="689.8" y="1747.29">GCA 004607015.1 ST759</text>
<text x="689.8" y="1754.61">GCA 003750905.1 ST296</text>
<text x="689.8" y="1761.93">GCA 004407845.1 ST87</text>
<text x="689.8" y="1769.25">GCA 004660625.1 ST87</text>
<text x="689.8" y="1776.57">GCA 004660745.1 ST846</text>
<text x="689.8" y="1783.89">GCA 004667095.1 ST87</text>
<text x="689.8" y="1791.21">GCA 004706345.1 ST87</text>
<text x="689.8" y="1798.53">GCA 004705155.1 ST296</text>
<text x="689.8" y="1805.85">GCA 021023255.1 ST5</text>
<text x="689.8" y="1813.17">GCA 003002195.1 ST5</text>
<text x="689.8" y="1820.49">GCA 003607955.1 ST5</text>
<text x="689.8" y="1827.81">GCA 004385645.1 ST5</text>
<text x="689.8" y="1835.13">GCA 004415765.1 ST1074</text>
<text x="689.8" y="1842.45">GCA 004428295.1 ST5</text>
<text x="689.8" y="1849.76">GCA 004428355.1 ST5</text>
<text x="689.8" y="1857.08">GCA 004430015.1 ST5</text>
<text x="689.8" y="1864.4">GCA 004558815.1 ST5</text>
<text x="689.8" y="1871.72">GCA 004611395.1 ST5</text>
<text x="689.8" y="1879.04">GCA 025556735.1 ST5</text>
<text x="689.8" y="1886.36">GCA 004692525.1 ST5</text>
<text x="689.8" y="1893.68">GCA 030998675.1 ST5</text>
<text x="689.8" y="1901">GCA 004680305.1 ST5</text>
<text x="689.8" y="1908.32">GCA 003689975.1 ST217</text>
<text x="689.8" y="1915.64">GCA 003698345.1 ST217</text>
<text x="689.8" y="1922.96">GCA 004385645.1 ST217</text>
<text x="689.8" y="1930.28">GCA 004396975.1 ST217</text>
<text x="689.8" y="1937.6">GCA 004450185.1 ST217</text>
<text x="689.8" y="1944.92">GCA 004592515.1 ST217</text>
<text x="689.8" y="1952.24">GCA 004703565.1 ST217</text>
<text x="689.8" y="1959.56">GCA 004605755.1 ST217</text>
<text x="689.8" y="1966.88">GCA 900032675.1 ST6</text>
<text x="689.8" y="1974.2">GCA 002443975.1 ST6</text>
<text x="689.8" y="1981.51">GCA 900022465.1 ST6</text>
<text x="689.8" y="1988.83">GCA 900032665.1 ST6</text>
<text x="689.8" y="1996.15">GCA 900033485.1 ST6</text>
<text x="689.8" y="2003.47">GCA 900033755.1 ST6</text>
<text x="689.8" y="2010.79">GCA 900033385.1 ST6</text>
<text x="689.8" y="2018.11">GCA 900033395.1 ST6</text>
<text x="689.8" y="2025.43">GCA 900033675.1 ST616</text>
<text x="689.8" y="2032.75">GCA 900034075.1 ST6</text>
<text x="689.8" y="2040.07">GCA 900034685.1 ST6</text>
<text x="689.8" y="2047.39">GCA 900034695.1 ST6</text>
<text x="689.8" y="2054.71">GCA 900034705.1 ST6</text>
<text x="689.8" y="2062.03">GCA 002740915.1 ST1347</text>
<text x="689.8" y="2069.35">GCA 003607895.1 ST6</text>
<text x="689.8" y="2076.67">GCA 003737125.1 ST6</text>
<text x="689.8" y="2083.99">GCA 004104175.1 ST6</text>
<text x="689.8" y="2091.31">GCA 004444185.1 ST6</text>
<text x="689.8" y="2098.63">GCA 004458345.1 ST2035</text>
<text x="689.8" y="2105.95">GCA 004496345.1 ST219</text>
<text x="689.8" y="2113.26">GCA 004518945.1 ST6</text>
<text x="689.8" y="2120.58">GCA 004595475.1 ST219</text>
<text x="689.8" y="2127.9">GCA 004605995.1 ST1039</text>
<text x="689.8" y="2135.22">GCA 004611715.1 ST6</text>
<text x="689.8" y="2142.54">GCA 004641445.1 ST6</text>
<text x="689.8" y="2149.86">GCA 004645285.1 ST6</text>
<text x="689.8" y="2157.18">GCA 004646665.1 ST6</text>
<text x="689.8" y="2164.5">GCA 004680945.1 ST219</text>
<text x="689.8" y="2171.82">GCA 004699265.1 ST6</text>
<text x="689.8" y="2179.14">GCA 022692165.1 ST6</text>
<text x="689.8" y="2186.46">GCA 030990935.1 ST1039</text>
<text x="689.8" y="2193.78">GCA 022693355.1 ST6</text>
<text x="689.8" y="2201.1">GCA 021024515.1 ST3</text>
<text x="689.8" y="2208.42">GCA 900024465.1 ST3</text>
<text x="689.8" y="2215.74">GCA 025515945.1 ST3</text>
<text x="689.8" y="2223.06">GCA 021024295.1 ST224</text>
<text x="689.8" y="2230.38">GCA 030480725.1 ST224</text>
<text x="689.8" y="2237.7">GCA 900036265.1 ST224</text>
<text x="689.8" y="2245.01">GCA 900019075.1 ST224</text>
<text x="689.8" y="2252.33">GCA 004551595.1 ST363</text>
<text x="689.8" y="2259.65">GCA 004516665.1 ST851</text>
<text x="689.8" y="2266.97">GCA 004648565.1 ST1041</text>
<text x="689.8" y="2274.29">GCA 004444265.1 ST1688</text>
<text x="689.8" y="2281.61">GCA 021023595.1 ST59</text>
<text x="689.8" y="2288.93">GCA 004641565.1 ST59</text>
<text x="689.8" y="2296.25">GCA 900022065.1 ST59</text>
<text x="689.8" y="2303.57">GCA 004614395.1 ST639</text>
<text x="689.8" y="2310.89">GCA 004450575.1 ST639</text>
<text x="689.8" y="2318.21">GCA 003686175.1 ST1</text>
<text x="689.8" y="2325.53">GCA 004659405.1 ST1</text>
<text x="689.8" y="2332.85">GCA 021024755.1 ST1</text>
<text x="689.8" y="2340.17">GCA 030480625.1 ST1</text>
<text x="689.8" y="2347.49">GCA 004483145.1 ST1</text>
<text x="689.8" y="2354.81">GCA 002027575.1 ST1</text>
<text x="689.8" y="2362.13">GCA 002443595.1 ST1</text>
<text x="689.8" y="2369.45">GCA 002444175.1 ST1</text>
<text x="689.8" y="2376.76">GCA 002444655.1 ST1</text>
<text x="689.8" y="2384.08">GCA 003002295.1 ST1</text>
<text x="689.8" y="2391.4">GCA 003002835.1 ST1</text>
<text x="689.8" y="2398.72">GCA 029130655.1 ST1</text>
<text x="689.8" y="2406.04">GCA 900026905.1 ST1</text>
<text x="689.8" y="2413.36">GCA 900029985.1 ST1</text>
<text x="689.8" y="2420.68">GCA 900032695.1 ST1</text>
<text x="689.8" y="2428">GCA 900032705.1 ST1</text>
<text x="689.8" y="2435.32">GCA 900033695.1 ST1</text>
<text x="689.8" y="2442.64">GCA 900034665.1 ST613</text>
<text x="689.8" y="2449.96">GCA 900034715.1 ST1</text>
<text x="689.8" y="2457.28">GCA 900037335.1 ST1</text>
<text x="689.8" y="2464.6">GCA 002132505.1 ST1</text>
<text x="689.8" y="2471.92">GCA 002132515.1 ST1</text>
<text x="689.8" y="2479.24">GCA 004384145.1 ST1</text>
<text x="689.8" y="2486.56">GCA 004385245.1 ST1</text>
<text x="689.8" y="2493.88">GCA 004391545.1 ST1</text>
<text x="689.8" y="2501.2">GCA 004408675.1 ST1</text>
<text x="689.8" y="2508.51">GCA 004410515.1 ST1</text>
<text x="689.8" y="2515.83">GCA 004427235.1 ST1</text>
<text x="689.8" y="2523.15">GCA 003607475.1 ST1</text>
<text x="689.8" y="2530.47">GCA 004444225.1 ST1</text>
<text x="689.8" y="2537.79">GCA 004447055.1 ST1</text>
<text x="689.8" y="2545.11">GCA 004447965.1 ST1</text>
<text x="689.8" y="2552.43">GCA 004452825.1 ST1</text>
<text x="689.8" y="2559.75">GCA 004455045.1 ST1</text>
<text x="689.8" y="2567.07">GCA 004573755.1 ST1</text>
<text x="689.8" y="2574.39">GCA 004576115.1 ST1</text>
<text x="689.8" y="2581.71">GCA 004577695.1 ST1</text>
<text x="689.8" y="2589.03">GCA 004585695.1 ST1</text>
<text x="689.8" y="2596.35">GCA 004594555.1 ST1</text>
<text x="689.8" y="2603.67">GCA 004606835.1 ST1</text>
<text x="689.8" y="2610.99">GCA 004609375.1 ST1</text>
<text x="689.8" y="2618.31">GCA 004621315.1 ST1</text>
<text x="689.8" y="2625.63">GCA 004623815.1 ST1</text>
<text x="689.8" y="2632.95">GCA 004631455.1 ST308</text>
<text x="689.8" y="2640.26">GCA 004632665.1 ST1</text>
<text x="689.8" y="2647.58">GCA 004633935.1 ST1</text>
<text x="689.8" y="2654.9">GCA 004638005.1 ST1</text>
<text x="689.8" y="2662.22">GCA 004638285.1 ST1</text>
<text x="689.8" y="2669.54">GCA 004641365.1 ST1842</text>
<text x="689.8" y="2676.86">GCA 030999895.1 ST1</text>
<text x="689.8" y="2684.18">GCA 004681345.1 ST1</text>
</g>
<g id="heatmap">
<rect x="798.4" y="153.4" width="204.3" height="2207.9" fill="#1a1a1a"/>
<path d="M798.4 153.5h20.43v2207.8h-20.43zM818.83 153.5h20.43v2207.8h-20.43zM839.26 153.5h20.43v2207.8h-20.43zM859.69 153.5h20.43v2207.8h-20.43zM880.12 153.5h20.43v2207.8h-20.43zM900.55 686.7h20.43v6.43h-20.43zM920.98 673.85h20.43v19.28h-20.43zM920.98 1348.49h20.43v6.41h-20.43zM920.98 1632.11h20.43v6.45h-20.43zM920.98 1916.04h20.43v6.45h-20.43zM941.41 236.97h20.43v6.42h-20.43zM941.41 281.91h20.43v96.36h-20.43zM941.41 384.69h20.43v12.85h-20.43zM941.41 403.97h20.43v12.85h-20.43zM941.41 500.33h20.43v38.55h-20.43zM941.41 545.3h20.43v6.42h-20.43zM941.41 590.28h20.43v19.28h-20.43zM941.41 616h20.43v12.86h-20.43zM941.41 654.56h20.43v6.43h-20.43zM941.41 725.27h20.43v32.14h-20.43zM941.41 763.84h20.43v64.28h-20.43zM941.41 847.4h20.43v70.76h-20.43zM961.84 416.81h20.43v6.42h-20.43zM961.84 616h20.43v6.43h-20.43zM961.84 795.98h20.43v6.43h-20.43zM961.84 1586.94h20.43v12.91h-20.43zM961.84 1651.47h20.43v6.45h-20.43zM961.84 1735.36h20.43v12.91h-20.43zM961.84 1754.72h20.43v12.91h-20.43zM961.84 1780.53h20.43v12.91h-20.43zM961.84 1799.89h20.43v6.45h-20.43zM961.84 2109.63h20.43v6.45h-20.43zM961.84 2154.8h20.43v6.45h-20.43zM982.27 1451.42h20.43v6.45h-20.43z" fill="#B81C20"/>
<path d="M798.4 159.92h204.3M798.4 166.34h204.3M798.4 172.76h204.3M798.4 179.18h204.3M798.4 185.6h204.3M798.4 192.02h204.3M798.4 198.44h204.3M798.4 204.86h204.3M798.4 211.28h204.3M798.4 217.7h204.3M798.4 224.12h204.3M798.4 230.55h204.3M798.4 236.97h204.3M798.4 243.39h204.3M798.4 249.81h204.3M798.4 256.23h204.3M798.4 262.65h204.3M798.4 269.07h204.3M798.4 275.49h204.3M798.4 281.91h204.3M798.4 288.33h204.3M798.4 294.75h204.3M798.4 301.17h204.3M798.4 307.6h204.3M798.4 314.02h204.3M798.4 320.45h204.3M798.4 326.87h204.3M798.4 333.3h204.3M798.4 339.72h204.3M798.4 346.15h204.3M798.4 352.57h204.3M798.4 358.99h204.3M798.4 365.42h204.3M798.4 371.84h204.3M798.4 378.27h204.3M798.4 384.69h204.3M798.4 391.12h204.3M798.4 397.54h204.3M798.4 403.97h204.3M798.4 410.39h204.3M798.4 416.81h204.3M798.4 423.24h204.3M798.4 429.66h204.3M798.4 436.09h204.3M798.4 442.51h204.3M798.4 448.94h204.3M798.4 455.36h204.3M798.4 461.78h204.3M798.4 468.21h204.3M798.4 474.63h204.3M798.4 481.06h204.3M798.4 487.48h204.3M798.4 493.91h204.3M798.4 500.33h204.3M798.4 506.76h204.3M798.4 513.18h204.3M798.4 519.6h204.3M798.4 526.03h204.3M798.4 532.45h204.3M798.4 538.88h204.3M798.4 545.3h204.3M798.4 551.73h204.3M798.4 558.15h204.3M798.4 564.58h204.3M798.4 571h204.3M798.4 577.43h204.3M798.4 583.86h204.3M798.4 590.28h204.3M798.4 596.71h204.3M798.4 603.14h204.3M798.4 609.57h204.3M798.4 616h204.3M798.4 622.42h204.3M798.4 628.85h204.3M798.4 635.28h204.3M798.4 641.71h204.3M798.4 648.13h204.3M798.4 654.56h204.3M798.4 660.99h204.3M798.4 667.42h204.3M798.4 673.85h204.3M798.4 680.27h204.3M798.4 686.7h204.3M798.4 693.13h204.3M798.4 699.56h204.3M798.4 705.99h204.3M798.4 712.41h204.3M798.4 718.84h204.3M798.4 725.27h204.3M798.4 731.7h204.3M798.4 738.13h204.3M798.4 744.55h204.3M798.4 750.98h204.3M798.4 757.41h204.3M798.4 763.84h204.3M798.4 770.27h204.3M798.4 776.69h204.3M798.4 783.12h204.3M798.4 789.55h204.3M798.4 795.98h204.3M798.4 802.4h204.3M798.4 808.83h204.3M798.4 815.26h204.3M798.4 821.69h204.3M798.4 828.12h204.3M798.4 834.54h204.3M798.4 840.97h204.3M798.4 847.4h204.3M798.4 853.83h204.3M798.4 860.27h204.3M798.4 866.7h204.3M798.4 873.13h204.3M798.4 879.56h204.3M798.4 886h204.3M798.4 892.43h204.3M798.4 898.86h204.3M798.4 905.29h204.3M798.4 911.73h204.3M798.4 918.16h204.3M798.4 924.59h204.3M798.4 931.02h204.3M798.4 937.46h204.3M798.4 943.89h204.3M798.4 950.32h204.3M798.4 956.75h204.3M798.4 963.19h204.3M798.4 969.62h204.3M798.4 976.05h204.3M798.4 982.48h204.3M798.4 988.92h204.3M798.4 995.35h204.3M798.4 1001.78h204.3M798.4 1008.21h204.3M798.4 1014.65h204.3M798.4 1021.08h204.3M798.4 1027.51h204.3M798.4 1033.94h204.3M798.4 1040.38h204.3M798.4 1046.81h204.3M798.4 1053.24h204.3M798.4 1059.67h204.3M798.4 1066.11h204.3M798.4 1072.54h204.3M798.4 1078.97h204.3M798.4 1085.4h204.3M798.4 1091.84h204.3M798.4 1098.27h204.3M798.4 1104.7h204.3M798.4 1111.13h204.3M798.4 1117.57h204.3M798.4 1124h204.3M798.4 1130.41h204.3M798.4 1136.83h204.3M798.4 1143.24h204.3M798.4 1149.66h204.3M798.4 1156.07h204.3M798.4 1162.48h204.3M798.4 1168.9h204.3M798.4 1175.31h204.3M798.4 1181.73h204.3M798.4 1188.14h204.3M798.4 1194.55h204.3M798.4 1200.97h204.3M798.4 1207.38h204.3M798.4 1213.8h204.3M798.4 1220.21h204.3M798.4 1226.62h204.3M798.4 1233.04h204.3M798.4 1239.45h204.3M798.4 1245.87h204.3M798.4 1252.28h204.3M798.4 1258.69h204.3M798.4 1265.11h204.3M798.4 1271.52h204.3M798.4 1277.93h204.3M798.4 1284.35h204.3M798.4 1290.76h204.3M798.4 1297.18h204.3M798.4 1303.59h204.3M798.4 1310h204.3M798.4 1316.42h204.3M798.4 1322.83h204.3M798.4 1329.25h204.3M798.4 1335.66h204.3M798.4 1342.07h204.3M798.4 1348.49h204.3M798.4 1354.9h204.3M798.4 1361.32h204.3M798.4 1367.73h204.3M798.4 1374.14h204.3M798.4 1380.56h204.3M798.4 1386.97h204.3M798.4 1393.39h204.3M798.4 1399.8h204.3" stroke="#fff" stroke-opacity="0.78" stroke-width="1.5" fill="none"/>
<path d="M798.4 1406.25h204.3M798.4 1412.71h204.3M798.4 1419.16h204.3M798.4 1425.61h204.3M798.4 1432.07h204.3M798.4 1438.52h204.3M798.4 1444.97h204.3M798.4 1451.42h204.3M798.4 1457.88h204.3M798.4 1464.33h204.3M798.4 1470.78h204.3M798.4 1477.24h204.3M798.4 1483.69h204.3M798.4 1490.14h204.3M798.4 1496.6h204.3M798.4 1503.05h204.3M798.4 1509.5h204.3M798.4 1515.95h204.3M798.4 1522.41h204.3M798.4 1528.86h204.3M798.4 1535.31h204.3M798.4 1541.77h204.3M798.4 1548.22h204.3M798.4 1554.67h204.3M798.4 1561.13h204.3M798.4 1567.58h204.3M798.4 1574.03h204.3M798.4 1580.48h204.3M798.4 1586.94h204.3M798.4 1593.39h204.3M798.4 1599.84h204.3M798.4 1606.3h204.3M798.4 1612.75h204.3M798.4 1619.2h204.3M798.4 1625.66h204.3M798.4 1632.11h204.3M798.4 1638.56h204.3M798.4 1645.01h204.3M798.4 1651.47h204.3M798.4 1657.92h204.3M798.4 1664.37h204.3M798.4 1670.83h204.3M798.4 1677.28h204.3M798.4 1683.73h204.3M798.4 1690.19h204.3M798.4 1696.64h204.3M798.4 1703.09h204.3M798.4 1709.54h204.3M798.4 1716h204.3M798.4 1722.45h204.3M798.4 1728.9h204.3M798.4 1735.36h204.3M798.4 1741.81h204.3M798.4 1748.26h204.3M798.4 1754.72h204.3M798.4 1761.17h204.3M798.4 1767.62h204.3M798.4 1774.08h204.3M798.4 1780.53h204.3M798.4 1786.98h204.3M798.4 1793.43h204.3M798.4 1799.89h204.3M798.4 1806.34h204.3M798.4 1812.79h204.3M798.4 1819.25h204.3M798.4 1825.7h204.3M798.4 1832.15h204.3M798.4 1838.61h204.3M798.4 1845.06h204.3M798.4 1851.51h204.3M798.4 1857.96h204.3M798.4 1864.42h204.3M798.4 1870.87h204.3M798.4 1877.32h204.3M798.4 1883.78h204.3M798.4 1890.23h204.3M798.4 1896.68h204.3M798.4 1903.14h204.3M798.4 1909.59h204.3M798.4 1916.04h204.3M798.4 1922.49h204.3M798.4 1928.95h204.3M798.4 1935.4h204.3M798.4 1941.85h204.3M798.4 1948.31h204.3M798.4 1954.76h204.3M798.4 1961.21h204.3M798.4 1967.67h204.3M798.4 1974.12h204.3M798.4 1980.57h204.3M798.4 1987.02h204.3M798.4 1993.48h204.3M798.4 1999.93h204.3M798.4 2006.38h204.3M798.4 2012.84h204.3M798.4 2019.29h204.3M798.4 2025.74h204.3M798.4 2032.2h204.3M798.4 2038.65h204.3M798.4 2045.1h204.3M798.4 2051.56h204.3M798.4 2058.01h204.3M798.4 2064.46h204.3M798.4 2070.91h204.3M798.4 2077.37h204.3M798.4 2083.82h204.3M798.4 2090.27h204.3M798.4 2096.73h204.3M798.4 2103.18h204.3M798.4 2109.63h204.3M798.4 2116.09h204.3M798.4 2122.54h204.3M798.4 2128.99h204.3M798.4 2135.44h204.3M798.4 2141.9h204.3M798.4 2148.35h204.3M798.4 2154.8h204.3M798.4 2161.26h204.3M798.4 2167.71h204.3M798.4 2174.16h204.3M798.4 2180.62h204.3M798.4 2187.07h204.3M798.4 2193.52h204.3M798.4 2199.97h204.3M798.4 2206.43h204.3M798.4 2212.88h204.3M798.4 2219.33h204.3M798.4 2225.79h204.3M798.4 2232.24h204.3M798.4 2238.69h204.3M798.4 2245.15h204.3M798.4 2251.6h204.3M798.4 2258.05h204.3M798.4 2264.5h204.3M798.4 2270.96h204.3M798.4 2277.41h204.3M798.4 2283.86h204.3M798.4 2290.32h204.3M798.4 2296.77h204.3M798.4 2303.22h204.3M798.4 2309.68h204.3M798.4 2316.13h204.3M798.4 2322.58h204.3M798.4 2329.03h204.3M798.4 2335.49h204.3M798.4 2341.94h204.3M798.4 2348.39h204.3M798.4 2354.85h204.3" stroke="#fff" stroke-opacity="0.74" stroke-width="1.4" fill="none"/>
<path d="M798.4 294.75h204.3M798.4 571h204.3M798.4 847.4h204.3M798.4 1124h204.3M798.4 1399.8h204.3M798.4 397.54h204.3" stroke="#fff" stroke-width="2" fill="none"/>
<path d="M818.83 153.4v2207.9M839.26 153.4v2207.9M859.69 153.4v2207.9M880.12 153.4v2207.9M900.55 153.4v2207.9M920.98 153.4v2207.9M941.41 153.4v2207.9M961.84 153.4v2207.9M982.27 153.4v2207.9" stroke="#fff" stroke-width="1.3" fill="none"/>
<rect x="1014" y="153.4" width="204.1" height="2207.9" fill="#1a1a1a"/>
<path d="M1014 603.14h20.41v6.43h-20.41zM1014 860.27h20.41v12.87h-20.41zM1014 1935.4h20.41v12.91h-20.41zM1034.41 1935.4h20.41v12.91h-20.41zM1054.82 603.14h20.41v6.43h-20.41zM1054.82 860.27h20.41v12.87h-20.41zM1054.82 1935.4h20.41v12.91h-20.41zM1075.23 603.14h20.41v6.43h-20.41zM1075.23 860.27h20.41v12.87h-20.41zM1095.64 1935.4h20.41v12.91h-20.41zM1116.05 603.14h20.41v6.43h-20.41zM1116.05 860.27h20.41v12.87h-20.41zM1116.05 1935.4h20.41v12.91h-20.41zM1136.46 436.09h20.41v25.7h-20.41zM1136.46 493.91h20.41v6.42h-20.41zM1156.87 436.09h20.41v25.7h-20.41zM1156.87 493.91h20.41v6.42h-20.41zM1177.28 436.09h20.41v25.7h-20.41zM1177.28 493.91h20.41v6.42h-20.41zM1197.69 436.09h20.41v25.7h-20.41zM1197.69 493.91h20.41v6.42h-20.41z" fill="#B81C20"/>
<path d="M1014 159.92h204.1M1014 166.34h204.1M1014 172.76h204.1M1014 179.18h204.1M1014 185.6h204.1M1014 192.02h204.1M1014 198.44h204.1M1014 204.86h204.1M1014 211.28h204.1M1014 217.7h204.1M1014 224.12h204.1M1014 230.55h204.1M1014 236.97h204.1M1014 243.39h204.1M1014 249.81h204.1M1014 256.23h204.1M1014 262.65h204.1M1014 269.07h204.1M1014 275.49h204.1M1014 281.91h204.1M1014 288.33h204.1M1014 294.75h204.1M1014 301.17h204.1M1014 307.6h204.1M1014 314.02h204.1M1014 320.45h204.1M1014 326.87h204.1M1014 333.3h204.1M1014 339.72h204.1M1014 346.15h204.1M1014 352.57h204.1M1014 358.99h204.1M1014 365.42h204.1M1014 371.84h204.1M1014 378.27h204.1M1014 384.69h204.1M1014 391.12h204.1M1014 397.54h204.1M1014 403.97h204.1M1014 410.39h204.1M1014 416.81h204.1M1014 423.24h204.1M1014 429.66h204.1M1014 436.09h204.1M1014 442.51h204.1M1014 448.94h204.1M1014 455.36h204.1M1014 461.78h204.1M1014 468.21h204.1M1014 474.63h204.1M1014 481.06h204.1M1014 487.48h204.1M1014 493.91h204.1M1014 500.33h204.1M1014 506.76h204.1M1014 513.18h204.1M1014 519.6h204.1M1014 526.03h204.1M1014 532.45h204.1M1014 538.88h204.1M1014 545.3h204.1M1014 551.73h204.1M1014 558.15h204.1M1014 564.58h204.1M1014 571h204.1M1014 577.43h204.1M1014 583.86h204.1M1014 590.28h204.1M1014 596.71h204.1M1014 603.14h204.1M1014 609.57h204.1M1014 616h204.1M1014 622.42h204.1M1014 628.85h204.1M1014 635.28h204.1M1014 641.71h204.1M1014 648.13h204.1M1014 654.56h204.1M1014 660.99h204.1M1014 667.42h204.1M1014 673.85h204.1M1014 680.27h204.1M1014 686.7h204.1M1014 693.13h204.1M1014 699.56h204.1M1014 705.99h204.1M1014 712.41h204.1M1014 718.84h204.1M1014 725.27h204.1M1014 731.7h204.1M1014 738.13h204.1M1014 744.55h204.1M1014 750.98h204.1M1014 757.41h204.1M1014 763.84h204.1M1014 770.27h204.1M1014 776.69h204.1M1014 783.12h204.1M1014 789.55h204.1M1014 795.98h204.1M1014 802.4h204.1M1014 808.83h204.1M1014 815.26h204.1M1014 821.69h204.1M1014 828.12h204.1M1014 834.54h204.1M1014 840.97h204.1M1014 847.4h204.1M1014 853.83h204.1M1014 860.27h204.1M1014 866.7h204.1M1014 873.13h204.1M1014 879.56h204.1M1014 886h204.1M1014 892.43h204.1M1014 898.86h204.1M1014 905.29h204.1M1014 911.73h204.1M1014 918.16h204.1M1014 924.59h204.1M1014 931.02h204.1M1014 937.46h204.1M1014 943.89h204.1M1014 950.32h204.1M1014 956.75h204.1M1014 963.19h204.1M1014 969.62h204.1M1014 976.05h204.1M1014 982.48h204.1M1014 988.92h204.1M1014 995.35h204.1M1014 1001.78h204.1M1014 1008.21h204.1M1014 1014.65h204.1M1014 1021.08h204.1M1014 1027.51h204.1M1014 1033.94h204.1M1014 1040.38h204.1M1014 1046.81h204.1M1014 1053.24h204.1M1014 1059.67h204.1M1014 1066.11h204.1M1014 1072.54h204.1M1014 1078.97h204.1M1014 1085.4h204.1M1014 1091.84h204.1M1014 1098.27h204.1M1014 1104.7h204.1M1014 1111.13h204.1M1014 1117.57h204.1M1014 1124h204.1M1014 1130.41h204.1M1014 1136.83h204.1M1014 1143.24h204.1M1014 1149.66h204.1M1014 1156.07h204.1M1014 1162.48h204.1M1014 1168.9h204.1M1014 1175.31h204.1M1014 1181.73h204.1M1014 1188.14h204.1M1014 1194.55h204.1M1014 1200.97h204.1M1014 1207.38h204.1M1014 1213.8h204.1M1014 1220.21h204.1M1014 1226.62h204.1M1014 1233.04h204.1M1014 1239.45h204.1M1014 1245.87h204.1M1014 1252.28h204.1M1014 1258.69h204.1M1014 1265.11h204.1M1014 1271.52h204.1M1014 1277.93h204.1M1014 1284.35h204.1M1014 1290.76h204.1M1014 1297.18h204.1M1014 1303.59h204.1M1014 1310h204.1M1014 1316.42h204.1M1014 1322.83h204.1M1014 1329.25h204.1M1014 1335.66h204.1M1014 1342.07h204.1M1014 1348.49h204.1M1014 1354.9h204.1M1014 1361.32h204.1M1014 1367.73h204.1M1014 1374.14h204.1M1014 1380.56h204.1M1014 1386.97h204.1M1014 1393.39h204.1M1014 1399.8h204.1" stroke="#fff" stroke-opacity="0.78" stroke-width="1.5" fill="none"/>
<path d="M1014 1406.25h204.1M1014 1412.71h204.1M1014 1419.16h204.1M1014 1425.61h204.1M1014 1432.07h204.1M1014 1438.52h204.1M1014 1444.97h204.1M1014 1451.42h204.1M1014 1457.88h204.1M1014 1464.33h204.1M1014 1470.78h204.1M1014 1477.24h204.1M1014 1483.69h204.1M1014 1490.14h204.1M1014 1496.6h204.1M1014 1503.05h204.1M1014 1509.5h204.1M1014 1515.95h204.1M1014 1522.41h204.1M1014 1528.86h204.1M1014 1535.31h204.1M1014 1541.77h204.1M1014 1548.22h204.1M1014 1554.67h204.1M1014 1561.13h204.1M1014 1567.58h204.1M1014 1574.03h204.1M1014 1580.48h204.1M1014 1586.94h204.1M1014 1593.39h204.1M1014 1599.84h204.1M1014 1606.3h204.1M1014 1612.75h204.1M1014 1619.2h204.1M1014 1625.66h204.1M1014 1632.11h204.1M1014 1638.56h204.1M1014 1645.01h204.1M1014 1651.47h204.1M1014 1657.92h204.1M1014 1664.37h204.1M1014 1670.83h204.1M1014 1677.28h204.1M1014 1683.73h204.1M1014 1690.19h204.1M1014 1696.64h204.1M1014 1703.09h204.1M1014 1709.54h204.1M1014 1716h204.1M1014 1722.45h204.1M1014 1728.9h204.1M1014 1735.36h204.1M1014 1741.81h204.1M1014 1748.26h204.1M1014 1754.72h204.1M1014 1761.17h204.1M1014 1767.62h204.1M1014 1774.08h204.1M1014 1780.53h204.1M1014 1786.98h204.1M1014 1793.43h204.1M1014 1799.89h204.1M1014 1806.34h204.1M1014 1812.79h204.1M1014 1819.25h204.1M1014 1825.7h204.1M1014 1832.15h204.1M1014 1838.61h204.1M1014 1845.06h204.1M1014 1851.51h204.1M1014 1857.96h204.1M1014 1864.42h204.1M1014 1870.87h204.1M1014 1877.32h204.1M1014 1883.78h204.1M1014 1890.23h204.1M1014 1896.68h204.1M1014 1903.14h204.1M1014 1909.59h204.1M1014 1916.04h204.1M1014 1922.49h204.1M1014 1928.95h204.1M1014 1935.4h204.1M1014 1941.85h204.1M1014 1948.31h204.1M1014 1954.76h204.1M1014 1961.21h204.1M1014 1967.67h204.1M1014 1974.12h204.1M1014 1980.57h204.1M1014 1987.02h204.1M1014 1993.48h204.1M1014 1999.93h204.1M1014 2006.38h204.1M1014 2012.84h204.1M1014 2019.29h204.1M1014 2025.74h204.1M1014 2032.2h204.1M1014 2038.65h204.1M1014 2045.1h204.1M1014 2051.56h204.1M1014 2058.01h204.1M1014 2064.46h204.1M1014 2070.91h204.1M1014 2077.37h204.1M1014 2083.82h204.1M1014 2090.27h204.1M1014 2096.73h204.1M1014 2103.18h204.1M1014 2109.63h204.1M1014 2116.09h204.1M1014 2122.54h204.1M1014 2128.99h204.1M1014 2135.44h204.1M1014 2141.9h204.1M1014 2148.35h204.1M1014 2154.8h204.1M1014 2161.26h204.1M1014 2167.71h204.1M1014 2174.16h204.1M1014 2180.62h204.1M1014 2187.07h204.1M1014 2193.52h204.1M1014 2199.97h204.1M1014 2206.43h204.1M1014 2212.88h204.1M1014 2219.33h204.1M1014 2225.79h204.1M1014 2232.24h204.1M1014 2238.69h204.1M1014 2245.15h204.1M1014 2251.6h204.1M1014 2258.05h204.1M1014 2264.5h204.1M1014 2270.96h204.1M1014 2277.41h204.1M1014 2283.86h204.1M1014 2290.32h204.1M1014 2296.77h204.1M1014 2303.22h204.1M1014 2309.68h204.1M1014 2316.13h204.1M1014 2322.58h204.1M1014 2329.03h204.1M1014 2335.49h204.1M1014 2341.94h204.1M1014 2348.39h204.1M1014 2354.85h204.1" stroke="#fff" stroke-opacity="0.74" stroke-width="1.4" fill="none"/>
<path d="M1014 294.75h204.1M1014 571h204.1M1014 847.4h204.1M1014 1124h204.1M1014 1399.8h204.1M1014 397.54h204.1" stroke="#fff" stroke-width="2" fill="none"/>
<path d="M1034.41 153.4v2207.9M1054.82 153.4v2207.9M1075.23 153.4v2207.9M1095.64 153.4v2207.9M1116.05 153.4v2207.9M1136.46 153.4v2207.9M1156.87 153.4v2207.9M1177.28 153.4v2207.9M1197.69 153.4v2207.9" stroke="#fff" stroke-width="1.3" fill="none"/>
<rect x="1229.4" y="153.4" width="163.2" height="2207.9" fill="#1a1a1a"/>
<path d="M1229.4 281.91h23.31v12.84h-23.31zM1229.4 301.17h23.31v12.85h-23.31zM1229.4 333.3h23.31v19.27h-23.31zM1229.4 365.42h23.31v6.42h-23.31zM1229.4 391.12h23.31v6.42h-23.31zM1229.4 416.81h23.31v6.42h-23.31zM1229.4 519.6h23.31v6.42h-23.31zM1229.4 654.56h23.31v6.43h-23.31zM1229.4 693.13h23.31v12.86h-23.31zM1229.4 783.12h23.31v6.43h-23.31zM1229.4 879.56h23.31v12.87h-23.31zM1229.4 911.73h23.31v6.43h-23.31zM1229.4 1515.95h23.31v6.45h-23.31zM1229.4 1586.94h23.31v6.45h-23.31zM1252.71 294.75h23.31v6.42h-23.31zM1252.71 326.87h23.31v12.85h-23.31zM1252.71 346.15h23.31v12.85h-23.31zM1252.71 365.42h23.31v6.42h-23.31zM1252.71 513.18h23.31v6.42h-23.31zM1252.71 545.3h23.31v6.42h-23.31zM1252.71 667.42h23.31v6.43h-23.31zM1252.71 705.99h23.31v6.43h-23.31zM1252.71 847.4h23.31v12.87h-23.31zM1252.71 898.86h23.31v6.43h-23.31zM1252.71 1059.67h23.31v6.43h-23.31zM1252.71 1181.73h23.31v6.41h-23.31zM1252.71 1438.52h23.31v6.45h-23.31zM1252.71 1464.33h23.31v6.45h-23.31zM1252.71 1503.05h23.31v6.45h-23.31zM1252.71 1522.41h23.31v6.45h-23.31zM1252.71 1580.48h23.31v6.45h-23.31zM1252.71 1632.11h23.31v6.45h-23.31zM1252.71 1935.4h23.31v6.45h-23.31zM1276.03 416.81h23.31v6.42h-23.31zM1276.03 699.56h23.31v6.43h-23.31zM1276.03 982.48h23.31v6.43h-23.31zM1276.03 1078.97h23.31v6.43h-23.31zM1276.03 1361.32h23.31v6.41h-23.31zM1276.03 1412.71h23.31v6.45h-23.31zM1276.03 1528.86h23.31v6.45h-23.31zM1276.03 1599.84h23.31v6.45h-23.31zM1276.03 1722.45h23.31v6.45h-23.31zM1276.03 1806.34h23.31v6.45h-23.31zM1276.03 1877.32h23.31v19.36h-23.31zM1276.03 1928.95h23.31v6.45h-23.31zM1276.03 2051.56h23.31v6.45h-23.31zM1276.03 2064.46h23.31v6.45h-23.31zM1276.03 2109.63h23.31v6.45h-23.31zM1276.03 2316.13h23.31v6.45h-23.31zM1276.03 2348.39h23.31v6.45h-23.31zM1299.34 269.07h23.31v6.42h-23.31zM1299.34 391.12h23.31v6.42h-23.31zM1299.34 429.66h23.31v6.42h-23.31zM1299.34 474.63h23.31v6.42h-23.31zM1299.34 493.91h23.31v19.27h-23.31zM1299.34 519.6h23.31v6.42h-23.31zM1299.34 545.3h23.31v44.98h-23.31zM1299.34 654.56h23.31v6.43h-23.31zM1299.34 667.42h23.31v19.28h-23.31zM1299.34 705.99h23.31v12.86h-23.31zM1299.34 738.13h23.31v6.43h-23.31zM1299.34 757.41h23.31v6.43h-23.31zM1299.34 770.27h23.31v6.43h-23.31zM1299.34 802.4h23.31v6.43h-23.31zM1299.34 815.26h23.31v6.43h-23.31zM1299.34 828.12h23.31v6.43h-23.31zM1299.34 840.97h23.31v6.43h-23.31zM1299.34 873.13h23.31v6.43h-23.31zM1299.34 892.43h23.31v25.73h-23.31zM1299.34 924.59h23.31v6.43h-23.31zM1299.34 1098.27h23.31v6.43h-23.31zM1299.34 1213.8h23.31v6.41h-23.31zM1299.34 1509.5h23.31v6.45h-23.31zM1299.34 1528.86h23.31v6.45h-23.31zM1299.34 1541.77h23.31v6.45h-23.31zM1299.34 1554.67h23.31v6.45h-23.31zM1299.34 1580.48h23.31v19.36h-23.31zM1299.34 1619.2h23.31v19.36h-23.31zM1299.34 1645.01h23.31v6.45h-23.31zM1299.34 2006.38h23.31v6.45h-23.31zM1322.66 1175.31h23.31v6.41h-23.31zM1322.66 1188.14h23.31v6.41h-23.31zM1322.66 1290.76h23.31v6.41h-23.31zM1322.66 1342.07h23.31v6.41h-23.31zM1322.66 1354.9h23.31v19.24h-23.31zM1322.66 1380.56h23.31v12.83h-23.31zM1322.66 1406.25h23.31v6.45h-23.31zM1322.66 1438.52h23.31v12.91h-23.31zM1322.66 1477.24h23.31v6.45h-23.31zM1322.66 1490.14h23.31v6.45h-23.31zM1322.66 1567.58h23.31v6.45h-23.31zM1322.66 1722.45h23.31v6.45h-23.31zM1322.66 1793.43h23.31v6.45h-23.31zM1322.66 2070.91h23.31v6.45h-23.31zM1322.66 2090.27h23.31v12.91h-23.31zM1322.66 2148.35h23.31v6.45h-23.31zM1322.66 2161.26h23.31v12.91h-23.31zM1322.66 2212.88h23.31v6.45h-23.31zM1322.66 2232.24h23.31v6.45h-23.31zM1322.66 2264.5h23.31v19.36h-23.31zM1322.66 2316.13h23.31v6.45h-23.31zM1322.66 2329.03h23.31v19.36h-23.31zM1345.97 416.81h23.31v6.42h-23.31zM1345.97 461.78h23.31v6.42h-23.31zM1345.97 622.42h23.31v6.43h-23.31zM1345.97 648.13h23.31v6.43h-23.31zM1345.97 660.99h23.31v6.43h-23.31zM1345.97 699.56h23.31v12.86h-23.31zM1345.97 725.27h23.31v6.43h-23.31zM1345.97 770.27h23.31v6.43h-23.31zM1345.97 828.12h23.31v6.43h-23.31zM1345.97 937.46h23.31v6.43h-23.31zM1345.97 995.35h23.31v6.43h-23.31zM1345.97 1078.97h23.31v6.43h-23.31zM1345.97 1091.84h23.31v6.43h-23.31zM1345.97 1156.07h23.31v6.41h-23.31zM1345.97 1271.52h23.31v6.41h-23.31zM1345.97 1316.42h23.31v6.41h-23.31zM1345.97 1335.66h23.31v6.41h-23.31zM1345.97 1412.71h23.31v6.45h-23.31zM1345.97 1425.61h23.31v6.45h-23.31zM1345.97 1457.88h23.31v25.81h-23.31zM1345.97 1490.14h23.31v12.91h-23.31zM1345.97 1548.22h23.31v6.45h-23.31zM1345.97 1586.94h23.31v12.91h-23.31zM1345.97 1612.75h23.31v19.36h-23.31zM1345.97 1657.92h23.31v6.45h-23.31zM1345.97 1690.19h23.31v6.45h-23.31zM1345.97 1703.09h23.31v25.81h-23.31zM1345.97 1735.36h23.31v12.91h-23.31zM1345.97 1754.72h23.31v12.91h-23.31zM1345.97 1774.08h23.31v19.36h-23.31zM1345.97 1799.89h23.31v12.91h-23.31zM1345.97 1845.06h23.31v12.91h-23.31zM1345.97 1883.78h23.31v12.91h-23.31zM1345.97 1909.59h23.31v6.45h-23.31zM1345.97 2019.29h23.31v12.91h-23.31zM1345.97 2038.65h23.31v6.45h-23.31zM1345.97 2051.56h23.31v6.45h-23.31zM1345.97 2154.8h23.31v6.45h-23.31zM1345.97 2174.16h23.31v6.45h-23.31zM1345.97 2277.41h23.31v6.45h-23.31zM1345.97 2290.32h23.31v12.91h-23.31zM1345.97 2316.13h23.31v6.45h-23.31zM1345.97 2341.94h23.31v12.91h-23.31zM1369.29 211.28h23.31v6.42h-23.31zM1369.29 731.7h23.31v6.43h-23.31zM1369.29 1335.66h23.31v6.41h-23.31zM1369.29 1354.9h23.31v6.41h-23.31zM1369.29 1367.73h23.31v19.24h-23.31zM1369.29 1399.8h23.31v6.45h-23.31zM1369.29 1425.61h23.31v6.45h-23.31zM1369.29 1490.14h23.31v6.45h-23.31zM1369.29 1567.58h23.31v6.45h-23.31zM1369.29 1599.84h23.31v6.45h-23.31zM1369.29 1748.26h23.31v6.45h-23.31zM1369.29 2032.2h23.31v6.45h-23.31zM1369.29 2064.46h23.31v6.45h-23.31zM1369.29 2090.27h23.31v6.45h-23.31zM1369.29 2103.18h23.31v6.45h-23.31zM1369.29 2135.44h23.31v6.45h-23.31zM1369.29 2225.79h23.31v6.45h-23.31zM1369.29 2238.69h23.31v6.45h-23.31z" fill="#B81C20"/>
<path d="M1229.4 159.92h163.2M1229.4 166.34h163.2M1229.4 172.76h163.2M1229.4 179.18h163.2M1229.4 185.6h163.2M1229.4 192.02h163.2M1229.4 198.44h163.2M1229.4 204.86h163.2M1229.4 211.28h163.2M1229.4 217.7h163.2M1229.4 224.12h163.2M1229.4 230.55h163.2M1229.4 236.97h163.2M1229.4 243.39h163.2M1229.4 249.81h163.2M1229.4 256.23h163.2M1229.4 262.65h163.2M1229.4 269.07h163.2M1229.4 275.49h163.2M1229.4 281.91h163.2M1229.4 288.33h163.2M1229.4 294.75h163.2M1229.4 301.17h163.2M1229.4 307.6h163.2M1229.4 314.02h163.2M1229.4 320.45h163.2M1229.4 326.87h163.2M1229.4 333.3h163.2M1229.4 339.72h163.2M1229.4 346.15h163.2M1229.4 352.57h163.2M1229.4 358.99h163.2M1229.4 365.42h163.2M1229.4 371.84h163.2M1229.4 378.27h163.2M1229.4 384.69h163.2M1229.4 391.12h163.2M1229.4 397.54h163.2M1229.4 403.97h163.2M1229.4 410.39h163.2M1229.4 416.81h163.2M1229.4 423.24h163.2M1229.4 429.66h163.2M1229.4 436.09h163.2M1229.4 442.51h163.2M1229.4 448.94h163.2M1229.4 455.36h163.2M1229.4 461.78h163.2M1229.4 468.21h163.2M1229.4 474.63h163.2M1229.4 481.06h163.2M1229.4 487.48h163.2M1229.4 493.91h163.2M1229.4 500.33h163.2M1229.4 506.76h163.2M1229.4 513.18h163.2M1229.4 519.6h163.2M1229.4 526.03h163.2M1229.4 532.45h163.2M1229.4 538.88h163.2M1229.4 545.3h163.2M1229.4 551.73h163.2M1229.4 558.15h163.2M1229.4 564.58h163.2M1229.4 571h163.2M1229.4 577.43h163.2M1229.4 583.86h163.2M1229.4 590.28h163.2M1229.4 596.71h163.2M1229.4 603.14h163.2M1229.4 609.57h163.2M1229.4 616h163.2M1229.4 622.42h163.2M1229.4 628.85h163.2M1229.4 635.28h163.2M1229.4 641.71h163.2M1229.4 648.13h163.2M1229.4 654.56h163.2M1229.4 660.99h163.2M1229.4 667.42h163.2M1229.4 673.85h163.2M1229.4 680.27h163.2M1229.4 686.7h163.2M1229.4 693.13h163.2M1229.4 699.56h163.2M1229.4 705.99h163.2M1229.4 712.41h163.2M1229.4 718.84h163.2M1229.4 725.27h163.2M1229.4 731.7h163.2M1229.4 738.13h163.2M1229.4 744.55h163.2M1229.4 750.98h163.2M1229.4 757.41h163.2M1229.4 763.84h163.2M1229.4 770.27h163.2M1229.4 776.69h163.2M1229.4 783.12h163.2M1229.4 789.55h163.2M1229.4 795.98h163.2M1229.4 802.4h163.2M1229.4 808.83h163.2M1229.4 815.26h163.2M1229.4 821.69h163.2M1229.4 828.12h163.2M1229.4 834.54h163.2M1229.4 840.97h163.2M1229.4 847.4h163.2M1229.4 853.83h163.2M1229.4 860.27h163.2M1229.4 866.7h163.2M1229.4 873.13h163.2M1229.4 879.56h163.2M1229.4 886h163.2M1229.4 892.43h163.2M1229.4 898.86h163.2M1229.4 905.29h163.2M1229.4 911.73h163.2M1229.4 918.16h163.2M1229.4 924.59h163.2M1229.4 931.02h163.2M1229.4 937.46h163.2M1229.4 943.89h163.2M1229.4 950.32h163.2M1229.4 956.75h163.2M1229.4 963.19h163.2M1229.4 969.62h163.2M1229.4 976.05h163.2M1229.4 982.48h163.2M1229.4 988.92h163.2M1229.4 995.35h163.2M1229.4 1001.78h163.2M1229.4 1008.21h163.2M1229.4 1014.65h163.2M1229.4 1021.08h163.2M1229.4 1027.51h163.2M1229.4 1033.94h163.2M1229.4 1040.38h163.2M1229.4 1046.81h163.2M1229.4 1053.24h163.2M1229.4 1059.67h163.2M1229.4 1066.11h163.2M1229.4 1072.54h163.2M1229.4 1078.97h163.2M1229.4 1085.4h163.2M1229.4 1091.84h163.2M1229.4 1098.27h163.2M1229.4 1104.7h163.2M1229.4 1111.13h163.2M1229.4 1117.57h163.2M1229.4 1124h163.2M1229.4 1130.41h163.2M1229.4 1136.83h163.2M1229.4 1143.24h163.2M1229.4 1149.66h163.2M1229.4 1156.07h163.2M1229.4 1162.48h163.2M1229.4 1168.9h163.2M1229.4 1175.31h163.2M1229.4 1181.73h163.2M1229.4 1188.14h163.2M1229.4 1194.55h163.2M1229.4 1200.97h163.2M1229.4 1207.38h163.2M1229.4 1213.8h163.2M1229.4 1220.21h163.2M1229.4 1226.62h163.2M1229.4 1233.04h163.2M1229.4 1239.45h163.2M1229.4 1245.87h163.2M1229.4 1252.28h163.2M1229.4 1258.69h163.2M1229.4 1265.11h163.2M1229.4 1271.52h163.2M1229.4 1277.93h163.2M1229.4 1284.35h163.2M1229.4 1290.76h163.2M1229.4 1297.18h163.2M1229.4 1303.59h163.2M1229.4 1310h163.2M1229.4 1316.42h163.2M1229.4 1322.83h163.2M1229.4 1329.25h163.2M1229.4 1335.66h163.2M1229.4 1342.07h163.2M1229.4 1348.49h163.2M1229.4 1354.9h163.2M1229.4 1361.32h163.2M1229.4 1367.73h163.2M1229.4 1374.14h163.2M1229.4 1380.56h163.2M1229.4 1386.97h163.2M1229.4 1393.39h163.2M1229.4 1399.8h163.2" stroke="#fff" stroke-opacity="0.78" stroke-width="1.5" fill="none"/>
<path d="M1229.4 1406.25h163.2M1229.4 1412.71h163.2M1229.4 1419.16h163.2M1229.4 1425.61h163.2M1229.4 1432.07h163.2M1229.4 1438.52h163.2M1229.4 1444.97h163.2M1229.4 1451.42h163.2M1229.4 1457.88h163.2M1229.4 1464.33h163.2M1229.4 1470.78h163.2M1229.4 1477.24h163.2M1229.4 1483.69h163.2M1229.4 1490.14h163.2M1229.4 1496.6h163.2M1229.4 1503.05h163.2M1229.4 1509.5h163.2M1229.4 1515.95h163.2M1229.4 1522.41h163.2M1229.4 1528.86h163.2M1229.4 1535.31h163.2M1229.4 1541.77h163.2M1229.4 1548.22h163.2M1229.4 1554.67h163.2M1229.4 1561.13h163.2M1229.4 1567.58h163.2M1229.4 1574.03h163.2M1229.4 1580.48h163.2M1229.4 1586.94h163.2M1229.4 1593.39h163.2M1229.4 1599.84h163.2M1229.4 1606.3h163.2M1229.4 1612.75h163.2M1229.4 1619.2h163.2M1229.4 1625.66h163.2M1229.4 1632.11h163.2M1229.4 1638.56h163.2M1229.4 1645.01h163.2M1229.4 1651.47h163.2M1229.4 1657.92h163.2M1229.4 1664.37h163.2M1229.4 1670.83h163.2M1229.4 1677.28h163.2M1229.4 1683.73h163.2M1229.4 1690.19h163.2M1229.4 1696.64h163.2M1229.4 1703.09h163.2M1229.4 1709.54h163.2M1229.4 1716h163.2M1229.4 1722.45h163.2M1229.4 1728.9h163.2M1229.4 1735.36h163.2M1229.4 1741.81h163.2M1229.4 1748.26h163.2M1229.4 1754.72h163.2M1229.4 1761.17h163.2M1229.4 1767.62h163.2M1229.4 1774.08h163.2M1229.4 1780.53h163.2M1229.4 1786.98h163.2M1229.4 1793.43h163.2M1229.4 1799.89h163.2M1229.4 1806.34h163.2M1229.4 1812.79h163.2M1229.4 1819.25h163.2M1229.4 1825.7h163.2M1229.4 1832.15h163.2M1229.4 1838.61h163.2M1229.4 1845.06h163.2M1229.4 1851.51h163.2M1229.4 1857.96h163.2M1229.4 1864.42h163.2M1229.4 1870.87h163.2M1229.4 1877.32h163.2M1229.4 1883.78h163.2M1229.4 1890.23h163.2M1229.4 1896.68h163.2M1229.4 1903.14h163.2M1229.4 1909.59h163.2M1229.4 1916.04h163.2M1229.4 1922.49h163.2M1229.4 1928.95h163.2M1229.4 1935.4h163.2M1229.4 1941.85h163.2M1229.4 1948.31h163.2M1229.4 1954.76h163.2M1229.4 1961.21h163.2M1229.4 1967.67h163.2M1229.4 1974.12h163.2M1229.4 1980.57h163.2M1229.4 1987.02h163.2M1229.4 1993.48h163.2M1229.4 1999.93h163.2M1229.4 2006.38h163.2M1229.4 2012.84h163.2M1229.4 2019.29h163.2M1229.4 2025.74h163.2M1229.4 2032.2h163.2M1229.4 2038.65h163.2M1229.4 2045.1h163.2M1229.4 2051.56h163.2M1229.4 2058.01h163.2M1229.4 2064.46h163.2M1229.4 2070.91h163.2M1229.4 2077.37h163.2M1229.4 2083.82h163.2M1229.4 2090.27h163.2M1229.4 2096.73h163.2M1229.4 2103.18h163.2M1229.4 2109.63h163.2M1229.4 2116.09h163.2M1229.4 2122.54h163.2M1229.4 2128.99h163.2M1229.4 2135.44h163.2M1229.4 2141.9h163.2M1229.4 2148.35h163.2M1229.4 2154.8h163.2M1229.4 2161.26h163.2M1229.4 2167.71h163.2M1229.4 2174.16h163.2M1229.4 2180.62h163.2M1229.4 2187.07h163.2M1229.4 2193.52h163.2M1229.4 2199.97h163.2M1229.4 2206.43h163.2M1229.4 2212.88h163.2M1229.4 2219.33h163.2M1229.4 2225.79h163.2M1229.4 2232.24h163.2M1229.4 2238.69h163.2M1229.4 2245.15h163.2M1229.4 2251.6h163.2M1229.4 2258.05h163.2M1229.4 2264.5h163.2M1229.4 2270.96h163.2M1229.4 2277.41h163.2M1229.4 2283.86h163.2M1229.4 2290.32h163.2M1229.4 2296.77h163.2M1229.4 2303.22h163.2M1229.4 2309.68h163.2M1229.4 2316.13h163.2M1229.4 2322.58h163.2M1229.4 2329.03h163.2M1229.4 2335.49h163.2M1229.4 2341.94h163.2M1229.4 2348.39h163.2M1229.4 2354.85h163.2" stroke="#fff" stroke-opacity="0.74" stroke-width="1.4" fill="none"/>
<path d="M1229.4 294.75h163.2M1229.4 571h163.2M1229.4 847.4h163.2M1229.4 1124h163.2M1229.4 1399.8h163.2" stroke="#fff" stroke-width="2" fill="none"/>
<path d="M1252.71 153.4v2207.9M1276.03 153.4v2207.9M1299.34 153.4v2207.9M1322.66 153.4v2207.9M1345.97 153.4v2207.9M1369.29 153.4v2207.9" stroke="#fff" stroke-width="1.3" fill="none"/>
<rect x="1402.6" y="153.4" width="87.4" height="2207.9" fill="#1a1a1a"/>
<path d="M1402.6 860.27h21.85v6.43h-21.85zM1402.6 1586.94h21.85v6.45h-21.85zM1402.6 2096.73h21.85v6.45h-21.85zM1402.6 2174.16h21.85v6.45h-21.85zM1424.45 166.34h21.85v6.42h-21.85zM1424.45 185.6h21.85v19.26h-21.85zM1424.45 211.28h21.85v12.84h-21.85zM1424.45 256.23h21.85v6.42h-21.85zM1424.45 384.69h21.85v12.85h-21.85zM1424.45 403.97h21.85v12.85h-21.85zM1424.45 506.76h21.85v12.85h-21.85zM1424.45 526.03h21.85v12.85h-21.85zM1424.45 596.71h21.85v6.43h-21.85zM1424.45 616h21.85v19.28h-21.85zM1424.45 667.42h21.85v6.43h-21.85zM1424.45 686.7h21.85v6.43h-21.85zM1424.45 699.56h21.85v12.86h-21.85zM1424.45 731.7h21.85v12.86h-21.85zM1424.45 750.98h21.85v6.43h-21.85zM1424.45 847.4h21.85v19.3h-21.85zM1424.45 1322.83h21.85v6.41h-21.85zM1424.45 1645.01h21.85v6.45h-21.85zM1424.45 1928.95h21.85v19.36h-21.85zM1424.45 1999.93h21.85v19.36h-21.85zM1424.45 2212.88h21.85v6.45h-21.85zM1424.45 2238.69h21.85v6.45h-21.85zM1446.3 281.91h21.85v32.11h-21.85zM1446.3 590.28h21.85v6.43h-21.85zM1446.3 757.41h21.85v6.43h-21.85zM1446.3 1393.39h21.85v6.41h-21.85zM1446.3 1503.05h21.85v25.81h-21.85zM1446.3 1535.31h21.85v32.27h-21.85zM1446.3 1574.03h21.85v6.45h-21.85zM1446.3 1606.3h21.85v6.45h-21.85zM1446.3 1941.85h21.85v6.45h-21.85zM1446.3 1993.48h21.85v6.45h-21.85zM1468.15 931.02h21.85v6.43h-21.85zM1468.15 1651.47h21.85v6.45h-21.85z" fill="#B81C20"/>
<path d="M1402.6 159.92h87.4M1402.6 166.34h87.4M1402.6 172.76h87.4M1402.6 179.18h87.4M1402.6 185.6h87.4M1402.6 192.02h87.4M1402.6 198.44h87.4M1402.6 204.86h87.4M1402.6 211.28h87.4M1402.6 217.7h87.4M1402.6 224.12h87.4M1402.6 230.55h87.4M1402.6 236.97h87.4M1402.6 243.39h87.4M1402.6 249.81h87.4M1402.6 256.23h87.4M1402.6 262.65h87.4M1402.6 269.07h87.4M1402.6 275.49h87.4M1402.6 281.91h87.4M1402.6 288.33h87.4M1402.6 294.75h87.4M1402.6 301.17h87.4M1402.6 307.6h87.4M1402.6 314.02h87.4M1402.6 320.45h87.4M1402.6 326.87h87.4M1402.6 333.3h87.4M1402.6 339.72h87.4M1402.6 346.15h87.4M1402.6 352.57h87.4M1402.6 358.99h87.4M1402.6 365.42h87.4M1402.6 371.84h87.4M1402.6 378.27h87.4M1402.6 384.69h87.4M1402.6 391.12h87.4M1402.6 397.54h87.4M1402.6 403.97h87.4M1402.6 410.39h87.4M1402.6 416.81h87.4M1402.6 423.24h87.4M1402.6 429.66h87.4M1402.6 436.09h87.4M1402.6 442.51h87.4M1402.6 448.94h87.4M1402.6 455.36h87.4M1402.6 461.78h87.4M1402.6 468.21h87.4M1402.6 474.63h87.4M1402.6 481.06h87.4M1402.6 487.48h87.4M1402.6 493.91h87.4M1402.6 500.33h87.4M1402.6 506.76h87.4M1402.6 513.18h87.4M1402.6 519.6h87.4M1402.6 526.03h87.4M1402.6 532.45h87.4M1402.6 538.88h87.4M1402.6 545.3h87.4M1402.6 551.73h87.4M1402.6 558.15h87.4M1402.6 564.58h87.4M1402.6 571h87.4M1402.6 577.43h87.4M1402.6 583.86h87.4M1402.6 590.28h87.4M1402.6 596.71h87.4M1402.6 603.14h87.4M1402.6 609.57h87.4M1402.6 616h87.4M1402.6 622.42h87.4M1402.6 628.85h87.4M1402.6 635.28h87.4M1402.6 641.71h87.4M1402.6 648.13h87.4M1402.6 654.56h87.4M1402.6 660.99h87.4M1402.6 667.42h87.4M1402.6 673.85h87.4M1402.6 680.27h87.4M1402.6 686.7h87.4M1402.6 693.13h87.4M1402.6 699.56h87.4M1402.6 705.99h87.4M1402.6 712.41h87.4M1402.6 718.84h87.4M1402.6 725.27h87.4M1402.6 731.7h87.4M1402.6 738.13h87.4M1402.6 744.55h87.4M1402.6 750.98h87.4M1402.6 757.41h87.4M1402.6 763.84h87.4M1402.6 770.27h87.4M1402.6 776.69h87.4M1402.6 783.12h87.4M1402.6 789.55h87.4M1402.6 795.98h87.4M1402.6 802.4h87.4M1402.6 808.83h87.4M1402.6 815.26h87.4M1402.6 821.69h87.4M1402.6 828.12h87.4M1402.6 834.54h87.4M1402.6 840.97h87.4M1402.6 847.4h87.4M1402.6 853.83h87.4M1402.6 860.27h87.4M1402.6 866.7h87.4M1402.6 873.13h87.4M1402.6 879.56h87.4M1402.6 886h87.4M1402.6 892.43h87.4M1402.6 898.86h87.4M1402.6 905.29h87.4M1402.6 911.73h87.4M1402.6 918.16h87.4M1402.6 924.59h87.4M1402.6 931.02h87.4M1402.6 937.46h87.4M1402.6 943.89h87.4M1402.6 950.32h87.4M1402.6 956.75h87.4M1402.6 963.19h87.4M1402.6 969.62h87.4M1402.6 976.05h87.4M1402.6 982.48h87.4M1402.6 988.92h87.4M1402.6 995.35h87.4M1402.6 1001.78h87.4M1402.6 1008.21h87.4M1402.6 1014.65h87.4M1402.6 1021.08h87.4M1402.6 1027.51h87.4M1402.6 1033.94h87.4M1402.6 1040.38h87.4M1402.6 1046.81h87.4M1402.6 1053.24h87.4M1402.6 1059.67h87.4M1402.6 1066.11h87.4M1402.6 1072.54h87.4M1402.6 1078.97h87.4M1402.6 1085.4h87.4M1402.6 1091.84h87.4M1402.6 1098.27h87.4M1402.6 1104.7h87.4M1402.6 1111.13h87.4M1402.6 1117.57h87.4M1402.6 1124h87.4M1402.6 1130.41h87.4M1402.6 1136.83h87.4M1402.6 1143.24h87.4M1402.6 1149.66h87.4M1402.6 1156.07h87.4M1402.6 1162.48h87.4M1402.6 1168.9h87.4M1402.6 1175.31h87.4M1402.6 1181.73h87.4M1402.6 1188.14h87.4M1402.6 1194.55h87.4M1402.6 1200.97h87.4M1402.6 1207.38h87.4M1402.6 1213.8h87.4M1402.6 1220.21h87.4M1402.6 1226.62h87.4M1402.6 1233.04h87.4M1402.6 1239.45h87.4M1402.6 1245.87h87.4M1402.6 1252.28h87.4M1402.6 1258.69h87.4M1402.6 1265.11h87.4M1402.6 1271.52h87.4M1402.6 1277.93h87.4M1402.6 1284.35h87.4M1402.6 1290.76h87.4M1402.6 1297.18h87.4M1402.6 1303.59h87.4M1402.6 1310h87.4M1402.6 1316.42h87.4M1402.6 1322.83h87.4M1402.6 1329.25h87.4M1402.6 1335.66h87.4M1402.6 1342.07h87.4M1402.6 1348.49h87.4M1402.6 1354.9h87.4M1402.6 1361.32h87.4M1402.6 1367.73h87.4M1402.6 1374.14h87.4M1402.6 1380.56h87.4M1402.6 1386.97h87.4M1402.6 1393.39h87.4M1402.6 1399.8h87.4" stroke="#fff" stroke-opacity="0.78" stroke-width="1.5" fill="none"/>
<path d="M1402.6 1406.25h87.4M1402.6 1412.71h87.4M1402.6 1419.16h87.4M1402.6 1425.61h87.4M1402.6 1432.07h87.4M1402.6 1438.52h87.4M1402.6 1444.97h87.4M1402.6 1451.42h87.4M1402.6 1457.88h87.4M1402.6 1464.33h87.4M1402.6 1470.78h87.4M1402.6 1477.24h87.4M1402.6 1483.69h87.4M1402.6 1490.14h87.4M1402.6 1496.6h87.4M1402.6 1503.05h87.4M1402.6 1509.5h87.4M1402.6 1515.95h87.4M1402.6 1522.41h87.4M1402.6 1528.86h87.4M1402.6 1535.31h87.4M1402.6 1541.77h87.4M1402.6 1548.22h87.4M1402.6 1554.67h87.4M1402.6 1561.13h87.4M1402.6 1567.58h87.4M1402.6 1574.03h87.4M1402.6 1580.48h87.4M1402.6 1586.94h87.4M1402.6 1593.39h87.4M1402.6 1599.84h87.4M1402.6 1606.3h87.4M1402.6 1612.75h87.4M1402.6 1619.2h87.4M1402.6 1625.66h87.4M1402.6 1632.11h87.4M1402.6 1638.56h87.4M1402.6 1645.01h87.4M1402.6 1651.47h87.4M1402.6 1657.92h87.4M1402.6 1664.37h87.4M1402.6 1670.83h87.4M1402.6 1677.28h87.4M1402.6 1683.73h87.4M1402.6 1690.19h87.4M1402.6 1696.64h87.4M1402.6 1703.09h87.4M1402.6 1709.54h87.4M1402.6 1716h87.4M1402.6 1722.45h87.4M1402.6 1728.9h87.4M1402.6 1735.36h87.4M1402.6 1741.81h87.4M1402.6 1748.26h87.4M1402.6 1754.72h87.4M1402.6 1761.17h87.4M1402.6 1767.62h87.4M1402.6 1774.08h87.4M1402.6 1780.53h87.4M1402.6 1786.98h87.4M1402.6 1793.43h87.4M1402.6 1799.89h87.4M1402.6 1806.34h87.4M1402.6 1812.79h87.4M1402.6 1819.25h87.4M1402.6 1825.7h87.4M1402.6 1832.15h87.4M1402.6 1838.61h87.4M1402.6 1845.06h87.4M1402.6 1851.51h87.4M1402.6 1857.96h87.4M1402.6 1864.42h87.4M1402.6 1870.87h87.4M1402.6 1877.32h87.4M1402.6 1883.78h87.4M1402.6 1890.23h87.4M1402.6 1896.68h87.4M1402.6 1903.14h87.4M1402.6 1909.59h87.4M1402.6 1916.04h87.4M1402.6 1922.49h87.4M1402.6 1928.95h87.4M1402.6 1935.4h87.4M1402.6 1941.85h87.4M1402.6 1948.31h87.4M1402.6 1954.76h87.4M1402.6 1961.21h87.4M1402.6 1967.67h87.4M1402.6 1974.12h87.4M1402.6 1980.57h87.4M1402.6 1987.02h87.4M1402.6 1993.48h87.4M1402.6 1999.93h87.4M1402.6 2006.38h87.4M1402.6 2012.84h87.4M1402.6 2019.29h87.4M1402.6 2025.74h87.4M1402.6 2032.2h87.4M1402.6 2038.65h87.4M1402.6 2045.1h87.4M1402.6 2051.56h87.4M1402.6 2058.01h87.4M1402.6 2064.46h87.4M1402.6 2070.91h87.4M1402.6 2077.37h87.4M1402.6 2083.82h87.4M1402.6 2090.27h87.4M1402.6 2096.73h87.4M1402.6 2103.18h87.4M1402.6 2109.63h87.4M1402.6 2116.09h87.4M1402.6 2122.54h87.4M1402.6 2128.99h87.4M1402.6 2135.44h87.4M1402.6 2141.9h87.4M1402.6 2148.35h87.4M1402.6 2154.8h87.4M1402.6 2161.26h87.4M1402.6 2167.71h87.4M1402.6 2174.16h87.4M1402.6 2180.62h87.4M1402.6 2187.07h87.4M1402.6 2193.52h87.4M1402.6 2199.97h87.4M1402.6 2206.43h87.4M1402.6 2212.88h87.4M1402.6 2219.33h87.4M1402.6 2225.79h87.4M1402.6 2232.24h87.4M1402.6 2238.69h87.4M1402.6 2245.15h87.4M1402.6 2251.6h87.4M1402.6 2258.05h87.4M1402.6 2264.5h87.4M1402.6 2270.96h87.4M1402.6 2277.41h87.4M1402.6 2283.86h87.4M1402.6 2290.32h87.4M1402.6 2296.77h87.4M1402.6 2303.22h87.4M1402.6 2309.68h87.4M1402.6 2316.13h87.4M1402.6 2322.58h87.4M1402.6 2329.03h87.4M1402.6 2335.49h87.4M1402.6 2341.94h87.4M1402.6 2348.39h87.4M1402.6 2354.85h87.4" stroke="#fff" stroke-opacity="0.74" stroke-width="1.4" fill="none"/>
<path d="M1402.6 294.75h87.4M1402.6 571h87.4M1402.6 847.4h87.4M1402.6 1124h87.4M1402.6 1399.8h87.4" stroke="#fff" stroke-width="2" fill="none"/>
<path d="M1424.45 153.4v2207.9" stroke="#fff" stroke-width="1.3" fill="none"/>
<path d="M1446.3 153.4v2207.9" stroke="#fff" stroke-opacity="0.35" stroke-width="1" fill="none"/>
</g>
</svg></body></html>
